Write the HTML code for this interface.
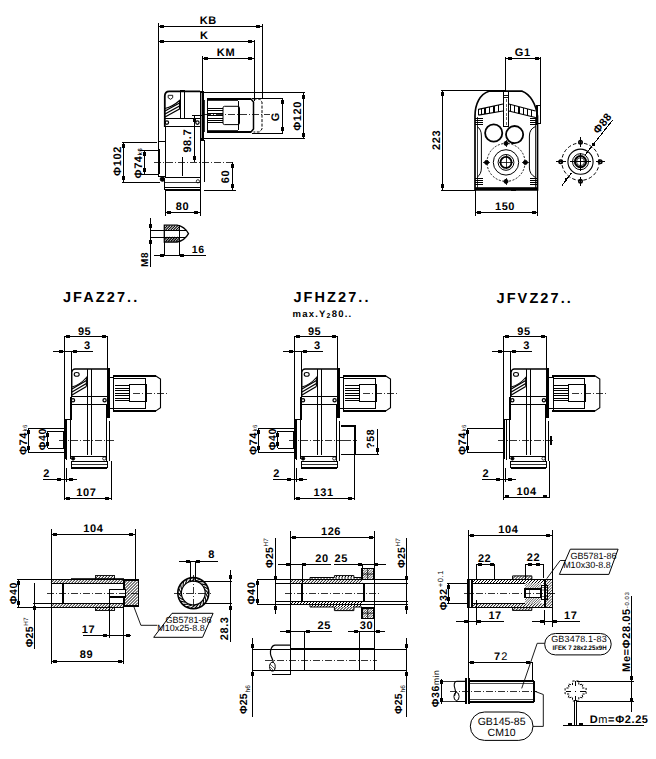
<!DOCTYPE html>
<html><head><meta charset="utf-8"><style>
html,body{margin:0;padding:0;background:#fff;}
svg{display:block;}
text{font-family:"Liberation Sans",sans-serif;}
</style></head><body>
<svg width="656" height="759" viewBox="0 0 656 759" text-rendering="geometricPrecision">
<rect width="656" height="759" fill="#fff"/>
<line x1="158" y1="26.4" x2="262" y2="26.4" stroke="#000" stroke-width="1" shape-rendering="crispEdges"/>
<rect x="160" y="25" width="4" height="3" fill="#000" shape-rendering="crispEdges"/>
<rect x="256" y="25" width="4" height="3" fill="#000" shape-rendering="crispEdges"/>
<text x="208.3" y="23.8" font-size="11" font-weight="bold" text-anchor="middle" font-family="Liberation Sans" letter-spacing="0.6">KB</text>
<line x1="158" y1="41.3" x2="254" y2="41.3" stroke="#000" stroke-width="1" shape-rendering="crispEdges"/>
<rect x="160" y="40" width="4" height="3" fill="#000" shape-rendering="crispEdges"/>
<rect x="248" y="40" width="4" height="3" fill="#000" shape-rendering="crispEdges"/>
<text x="204.3" y="39.1" font-size="11" font-weight="bold" text-anchor="middle" font-family="Liberation Sans" letter-spacing="0.6">K</text>
<line x1="202" y1="58" x2="254" y2="58" stroke="#000" stroke-width="1" shape-rendering="crispEdges"/>
<rect x="204" y="57" width="4" height="3" fill="#000" shape-rendering="crispEdges"/>
<rect x="248" y="57" width="4" height="3" fill="#000" shape-rendering="crispEdges"/>
<text x="226" y="55.5" font-size="11" font-weight="bold" text-anchor="middle" font-family="Liberation Sans" letter-spacing="0.6">KM</text>
<line x1="158" y1="23" x2="158" y2="141.5" stroke="#000" stroke-width="1" shape-rendering="crispEdges"/>
<line x1="262" y1="24" x2="262" y2="99" stroke="#000" stroke-width="1" shape-rendering="crispEdges"/>
<line x1="254" y1="39.5" x2="254" y2="101" stroke="#000" stroke-width="1" shape-rendering="crispEdges"/>
<line x1="202" y1="56" x2="202" y2="91" stroke="#000" stroke-width="1" shape-rendering="crispEdges"/>
<line x1="158" y1="141.5" x2="165.3" y2="141.5" stroke="#000" stroke-width="1" shape-rendering="crispEdges"/>
<path d="M164.8,127 L164.8,96 Q164.8,91.3 169.3,91.3 L200,91.3" stroke="#000" stroke-width="1.8" fill="none"/>
<line x1="180.9" y1="91.3" x2="180.9" y2="118.2" stroke="#000" stroke-width="1" shape-rendering="crispEdges"/>
<line x1="184.3" y1="91.3" x2="184.3" y2="118.2" stroke="#000" stroke-width="1" shape-rendering="crispEdges"/>
<rect x="180.4" y="90.3" width="4.4" height="1.8" fill="#000" shape-rendering="crispEdges"/>
<line x1="164.6" y1="118.2" x2="200" y2="118.2" stroke="#000" stroke-width="1.2" shape-rendering="crispEdges"/>
<line x1="164.6" y1="126.1" x2="200" y2="126.1" stroke="#000" stroke-width="1" shape-rendering="crispEdges"/>
<path d="M165,108.5 Q173,106.5 179.5,100.5 L179.5,109.5" stroke="#000" stroke-width="1.1" fill="none"/>
<path d="M165,111 L179.5,103 M165,114 L179.5,106 M165,117 L179.5,109" stroke="#000" stroke-width="1.4" fill="none"/>
<path d="M168.2,95.3 L172.7,95.3 L172.7,97.8 L170.5,99.3 L168.2,97.8 Z" stroke="#000" stroke-width="0.9" fill="none"/>
<circle cx="166.9" cy="122.6" r="1.7" stroke="#000" stroke-width="1.2" fill="none"/>
<circle cx="197.4" cy="122.6" r="1.7" stroke="#000" stroke-width="1.2" fill="none"/>
<rect x="200" y="91" width="3.5" height="49" fill="#000" shape-rendering="crispEdges"/>
<line x1="201.7" y1="93" x2="201.7" y2="138" stroke="#fff" stroke-width="0.6" shape-rendering="crispEdges"/>
<line x1="203.5" y1="92.6" x2="304.5" y2="92.6" stroke="#000" stroke-width="1" shape-rendering="crispEdges"/>
<line x1="203.5" y1="138.7" x2="304.5" y2="138.7" stroke="#000" stroke-width="1" shape-rendering="crispEdges"/>
<line x1="207.2" y1="99" x2="251" y2="99" stroke="#000" stroke-width="2" shape-rendering="crispEdges"/>
<line x1="207.2" y1="132.2" x2="251" y2="132.2" stroke="#000" stroke-width="2" shape-rendering="crispEdges"/>
<line x1="207.2" y1="98.4" x2="207.2" y2="133.2" stroke="#000" stroke-width="1.2" shape-rendering="crispEdges"/>
<line x1="207.2" y1="100.9" x2="238.3" y2="100.9" stroke="#000" stroke-width="0.8" shape-rendering="crispEdges"/>
<line x1="207.2" y1="130.1" x2="238.3" y2="130.1" stroke="#000" stroke-width="0.8" shape-rendering="crispEdges"/>
<line x1="204.1" y1="100" x2="204.1" y2="132" stroke="#000" stroke-width="0.8" shape-rendering="crispEdges"/>
<line x1="207.8" y1="108.5" x2="223" y2="108.5" stroke="#000" stroke-width="1" shape-rendering="crispEdges"/>
<line x1="207.8" y1="110.9" x2="223" y2="110.9" stroke="#000" stroke-width="1" shape-rendering="crispEdges"/>
<line x1="207.8" y1="113.3" x2="223" y2="113.3" stroke="#000" stroke-width="1" shape-rendering="crispEdges"/>
<line x1="207.8" y1="115.7" x2="223" y2="115.7" stroke="#000" stroke-width="1" shape-rendering="crispEdges"/>
<line x1="207.8" y1="118.1" x2="223" y2="118.1" stroke="#000" stroke-width="1" shape-rendering="crispEdges"/>
<line x1="207.8" y1="120.5" x2="223" y2="120.5" stroke="#000" stroke-width="1" shape-rendering="crispEdges"/>
<line x1="207.8" y1="122.9" x2="223" y2="122.9" stroke="#000" stroke-width="1" shape-rendering="crispEdges"/>
<rect x="223" y="106.3" width="16.5" height="18.3" stroke="#000" stroke-width="1" fill="none" rx="1.5"/>
<line x1="238.3" y1="101" x2="238.3" y2="130" stroke="#000" stroke-width="1" shape-rendering="crispEdges"/>
<path d="M238,99 L251,99 L253.5,102 L253.5,129 L251,132 L238,132" stroke="#000" stroke-width="1.5" fill="none"/>
<path d="M253.5,99 L259.5,99 L262,102 L262,129 L259.5,132 L253.5,132" stroke="#000" stroke-width="1" fill="none" stroke-dasharray="3,1.5"/>
<line x1="203.5" y1="114.9" x2="270" y2="114.9" stroke="#000" stroke-width="0.8" stroke-dasharray="7,2,1,2" shape-rendering="crispEdges"/>
<line x1="282.3" y1="98.5" x2="282.3" y2="133" stroke="#000" stroke-width="1" shape-rendering="crispEdges"/>
<rect x="281" y="100" width="3" height="4" fill="#000" shape-rendering="crispEdges"/>
<rect x="281" y="127" width="3" height="4" fill="#000" shape-rendering="crispEdges"/>
<text x="279.5" y="116.6" font-size="11" font-weight="bold" text-anchor="middle" font-family="Liberation Sans" letter-spacing="0.6" transform="rotate(-90 279.5 116.6)">G</text>
<line x1="303.6" y1="92.6" x2="303.6" y2="139" stroke="#000" stroke-width="1" shape-rendering="crispEdges"/>
<rect x="302" y="95" width="3" height="4" fill="#000" shape-rendering="crispEdges"/>
<rect x="302" y="133" width="3" height="4" fill="#000" shape-rendering="crispEdges"/>
<text x="301.5" y="115.9" font-size="11" font-weight="bold" text-anchor="middle" font-family="Liberation Sans" letter-spacing="0.6" transform="rotate(-90 301.5 115.9)">Φ120</text>
<line x1="252" y1="98.5" x2="283" y2="98.5" stroke="#000" stroke-width="1" shape-rendering="crispEdges"/>
<line x1="252" y1="133" x2="283" y2="133" stroke="#000" stroke-width="1" shape-rendering="crispEdges"/>
<line x1="165.3" y1="126.3" x2="165.3" y2="177.7" stroke="#000" stroke-width="1.2" shape-rendering="crispEdges"/>
<line x1="200.3" y1="126.3" x2="200.3" y2="181.5" stroke="#000" stroke-width="1.2" shape-rendering="crispEdges"/>
<rect x="158" y="149.4" width="2" height="24.6" fill="#000" shape-rendering="crispEdges"/>
<line x1="158" y1="141.5" x2="158" y2="176" stroke="#000" stroke-width="1" shape-rendering="crispEdges"/>
<line x1="158" y1="176" x2="165" y2="176" stroke="#000" stroke-width="1" shape-rendering="crispEdges"/>
<line x1="200.3" y1="140.7" x2="204.5" y2="140.7" stroke="#000" stroke-width="1" shape-rendering="crispEdges"/>
<line x1="204.5" y1="140.7" x2="204.5" y2="181.5" stroke="#000" stroke-width="1" shape-rendering="crispEdges"/>
<line x1="165" y1="177.7" x2="200" y2="177.7" stroke="#000" stroke-width="1" shape-rendering="crispEdges"/>
<line x1="164.6" y1="182.3" x2="200.3" y2="182.3" stroke="#000" stroke-width="0.8" shape-rendering="crispEdges"/>
<line x1="164.6" y1="187.3" x2="200.3" y2="187.3" stroke="#000" stroke-width="1" shape-rendering="crispEdges"/>
<line x1="164.6" y1="190" x2="200.3" y2="190" stroke="#000" stroke-width="1.8" shape-rendering="crispEdges"/>
<line x1="164.6" y1="177.7" x2="164.6" y2="190" stroke="#000" stroke-width="1" shape-rendering="crispEdges"/>
<line x1="200.3" y1="177.7" x2="200.3" y2="190" stroke="#000" stroke-width="1" shape-rendering="crispEdges"/>
<circle cx="162.4" cy="179.1" r="2.2" stroke="#000" stroke-width="1" fill="#000"/>
<circle cx="197.9" cy="181.3" r="1.6" stroke="#000" stroke-width="0.8" fill="none"/>
<line x1="182" y1="157" x2="182" y2="176" stroke="#000" stroke-width="1" shape-rendering="crispEdges"/>
<line x1="153.8" y1="162.3" x2="232" y2="162.3" stroke="#000" stroke-width="0.8" stroke-dasharray="7,2,1,2" shape-rendering="crispEdges"/>
<line x1="192" y1="115" x2="203" y2="115" stroke="#000" stroke-width="1" shape-rendering="crispEdges"/>
<line x1="194.3" y1="115.5" x2="194.3" y2="162" stroke="#000" stroke-width="1" shape-rendering="crispEdges"/>
<rect x="193" y="118" width="3" height="4" fill="#000" shape-rendering="crispEdges"/>
<rect x="193" y="156" width="3" height="4" fill="#000" shape-rendering="crispEdges"/>
<text x="191.5" y="140.7" font-size="11" font-weight="bold" text-anchor="middle" font-family="Liberation Sans" letter-spacing="0.6" transform="rotate(-90 191.5 140.7)">98.7</text>
<line x1="123.5" y1="142.3" x2="123.5" y2="182.3" stroke="#000" stroke-width="1" shape-rendering="crispEdges"/>
<rect x="122" y="144" width="3" height="4" fill="#000" shape-rendering="crispEdges"/>
<rect x="122" y="176" width="3" height="4" fill="#000" shape-rendering="crispEdges"/>
<text x="120.5" y="161" font-size="11" font-weight="bold" text-anchor="middle" font-family="Liberation Sans" letter-spacing="0.6" transform="rotate(-90 120.5 161)">Φ102</text>
<line x1="121.7" y1="142.3" x2="157" y2="142.3" stroke="#000" stroke-width="1" shape-rendering="crispEdges"/>
<line x1="121.7" y1="182.3" x2="160" y2="182.3" stroke="#000" stroke-width="1" shape-rendering="crispEdges"/>
<line x1="144.6" y1="150.3" x2="144.6" y2="174.3" stroke="#000" stroke-width="1" shape-rendering="crispEdges"/>
<rect x="143" y="152" width="3" height="4" fill="#000" shape-rendering="crispEdges"/>
<rect x="143" y="168" width="3" height="4" fill="#000" shape-rendering="crispEdges"/>
<text x="141.5" y="163" font-size="11" font-weight="bold" text-anchor="middle" font-family="Liberation Sans" letter-spacing="0.6" transform="rotate(-90 141.5 163)">Φ74<tspan font-size="6" dy="0">k6</tspan></text>
<line x1="140" y1="150.3" x2="158" y2="150.3" stroke="#000" stroke-width="1" shape-rendering="crispEdges"/>
<line x1="140" y1="174.3" x2="158" y2="174.3" stroke="#000" stroke-width="1" shape-rendering="crispEdges"/>
<line x1="232.2" y1="162.3" x2="232.2" y2="190" stroke="#000" stroke-width="1" shape-rendering="crispEdges"/>
<rect x="231" y="164" width="3" height="4" fill="#000" shape-rendering="crispEdges"/>
<rect x="231" y="184" width="3" height="4" fill="#000" shape-rendering="crispEdges"/>
<text x="229" y="176.6" font-size="11" font-weight="bold" text-anchor="middle" font-family="Liberation Sans" letter-spacing="0.6" transform="rotate(-90 229 176.6)">60</text>
<line x1="204" y1="190" x2="236" y2="190" stroke="#000" stroke-width="1" shape-rendering="crispEdges"/>
<line x1="165" y1="189" x2="165" y2="216" stroke="#000" stroke-width="1" shape-rendering="crispEdges"/>
<line x1="200.4" y1="189" x2="200.4" y2="216" stroke="#000" stroke-width="1" shape-rendering="crispEdges"/>
<line x1="165" y1="212.5" x2="200.4" y2="212.5" stroke="#000" stroke-width="1" shape-rendering="crispEdges"/>
<rect x="167" y="211" width="4" height="3" fill="#000" shape-rendering="crispEdges"/>
<rect x="194" y="211" width="4" height="3" fill="#000" shape-rendering="crispEdges"/>
<text x="182.5" y="209.5" font-size="11" font-weight="bold" text-anchor="middle" font-family="Liberation Sans" letter-spacing="0.6">80</text>
<line x1="150.6" y1="218" x2="150.6" y2="267" stroke="#000" stroke-width="1" shape-rendering="crispEdges"/>
<rect x="149" y="224" width="3" height="4" fill="#000" shape-rendering="crispEdges"/>
<rect x="149" y="240" width="3" height="4" fill="#000" shape-rendering="crispEdges"/>
<line x1="150.6" y1="230.2" x2="165" y2="230.2" stroke="#000" stroke-width="1" shape-rendering="crispEdges"/>
<line x1="150.6" y1="237" x2="165" y2="237" stroke="#000" stroke-width="1" shape-rendering="crispEdges"/>
<line x1="150.6" y1="225.2" x2="165" y2="225.2" stroke="#000" stroke-width="0" shape-rendering="crispEdges"/>
<path d="M164.3,225.2 L177,225.2 Q184.5,226.5 188.5,233.6 Q184.5,240.7 177,242 L164.3,242 Z" stroke="#000" stroke-width="1.3" fill="none"/>
<path d="M164.8,228.3 L167.4,225.7 M165.5,230.2 L170.0,225.7 M168.1,230.2 L172.6,225.7 M170.7,230.2 L175.2,225.7 M173.3,230.2 L177.8,225.7 M175.9,230.2 L179.3,226.8 M178.5,230.2 L179.3,229.4" stroke="#000" stroke-width="1.1" fill="none"/>
<path d="M164.8,239.6 L167.4,237.0 M165.5,241.5 L170.0,237.0 M168.1,241.5 L172.6,237.0 M170.7,241.5 L175.2,237.0 M173.3,241.5 L177.8,237.0 M175.9,241.5 L179.3,238.1 M178.5,241.5 L179.3,240.7" stroke="#000" stroke-width="1.1" fill="none"/>
<line x1="164.3" y1="230.2" x2="186" y2="230.2" stroke="#000" stroke-width="1" shape-rendering="crispEdges"/>
<line x1="164.3" y1="237" x2="186" y2="237" stroke="#000" stroke-width="1" shape-rendering="crispEdges"/>
<line x1="164.8" y1="242" x2="164.8" y2="256" stroke="#000" stroke-width="1" shape-rendering="crispEdges"/>
<line x1="179.5" y1="225.2" x2="179.5" y2="256" stroke="#000" stroke-width="1" shape-rendering="crispEdges"/>
<line x1="153.6" y1="255.2" x2="206.2" y2="255.2" stroke="#000" stroke-width="1" shape-rendering="crispEdges"/>
<rect x="160" y="254" width="4" height="3" fill="#000" shape-rendering="crispEdges"/>
<rect x="180" y="254" width="4" height="3" fill="#000" shape-rendering="crispEdges"/>
<text x="198.3" y="252.6" font-size="10.5" font-weight="bold" text-anchor="middle" font-family="Liberation Sans" letter-spacing="0.6">16</text>
<text x="147.5" y="259.5" font-size="10" font-weight="bold" text-anchor="middle" font-family="Liberation Sans" letter-spacing="0.6" transform="rotate(-90 147.5 259.5)">M8</text>
<line x1="505.5" y1="58.3" x2="540.6" y2="58.3" stroke="#000" stroke-width="1" shape-rendering="crispEdges"/>
<rect x="508" y="57" width="4" height="3" fill="#000" shape-rendering="crispEdges"/>
<rect x="535" y="57" width="4" height="3" fill="#000" shape-rendering="crispEdges"/>
<text x="522.8" y="55.5" font-size="11" font-weight="bold" text-anchor="middle" font-family="Liberation Sans" letter-spacing="0.6">G1</text>
<line x1="505.5" y1="57" x2="505.5" y2="91" stroke="#000" stroke-width="1" shape-rendering="crispEdges"/>
<line x1="540.6" y1="57" x2="540.6" y2="106" stroke="#000" stroke-width="1" shape-rendering="crispEdges"/>
<line x1="441" y1="90.3" x2="505" y2="90.3" stroke="#000" stroke-width="1" shape-rendering="crispEdges"/>
<line x1="442.4" y1="90.3" x2="442.4" y2="190" stroke="#000" stroke-width="1" shape-rendering="crispEdges"/>
<rect x="441" y="92" width="3" height="4" fill="#000" shape-rendering="crispEdges"/>
<rect x="441" y="184" width="3" height="4" fill="#000" shape-rendering="crispEdges"/>
<text x="440" y="139.8" font-size="11" font-weight="bold" text-anchor="middle" font-family="Liberation Sans" letter-spacing="0.6" transform="rotate(-90 440 139.8)">223</text>
<line x1="441" y1="190" x2="475" y2="190" stroke="#000" stroke-width="1" shape-rendering="crispEdges"/>
<path d="M475,190 L475,116 C475,104 480,94 489,91.2 L522.2,91.2 C530,94 536,104 537.5,116 L537.5,190 Z" stroke="#000" stroke-width="1.7" fill="none"/>
<line x1="477" y1="117" x2="477" y2="188" stroke="#000" stroke-width="0.8" shape-rendering="crispEdges"/>
<line x1="535.6" y1="117" x2="535.6" y2="188" stroke="#000" stroke-width="0.8" shape-rendering="crispEdges"/>
<rect x="537.1" y="105.6" width="3.4" height="17.6" stroke="#000" stroke-width="1.3" fill="none" rx="0" shape-rendering="crispEdges"/>
<path d="M478.4,109.3 L503,104 M508.8,104 L535.5,111" stroke="#000" stroke-width="1.2" fill="none"/>
<path d="M478.4,115.2 L503,111 M508.8,111 L535.5,117.5" stroke="#000" stroke-width="1.2" fill="none"/>
<line x1="478.4" y1="109.3" x2="478.4" y2="115.2" stroke="#000" stroke-width="1" shape-rendering="crispEdges"/>
<line x1="481.5" y1="108.6" x2="481.5" y2="114.7" stroke="#000" stroke-width="1.4" shape-rendering="crispEdges"/>
<line x1="484.8" y1="107.9" x2="484.8" y2="114.1" stroke="#000" stroke-width="1.4" shape-rendering="crispEdges"/>
<line x1="489.6" y1="106.9" x2="489.6" y2="113.3" stroke="#000" stroke-width="1.4" shape-rendering="crispEdges"/>
<line x1="493.9" y1="106.0" x2="493.9" y2="112.6" stroke="#000" stroke-width="1.4" shape-rendering="crispEdges"/>
<line x1="498.7" y1="104.9" x2="498.7" y2="111.7" stroke="#000" stroke-width="1.4" shape-rendering="crispEdges"/>
<line x1="510.4" y1="104.4" x2="510.4" y2="111.4" stroke="#000" stroke-width="1.4" shape-rendering="crispEdges"/>
<line x1="514.2" y1="105.4" x2="514.2" y2="112.3" stroke="#000" stroke-width="1.4" shape-rendering="crispEdges"/>
<line x1="519" y1="106.7" x2="519" y2="113.5" stroke="#000" stroke-width="1.4" shape-rendering="crispEdges"/>
<line x1="523.2" y1="107.8" x2="523.2" y2="114.5" stroke="#000" stroke-width="1.4" shape-rendering="crispEdges"/>
<line x1="527.5" y1="108.9" x2="527.5" y2="115.6" stroke="#000" stroke-width="1.4" shape-rendering="crispEdges"/>
<line x1="531.5" y1="110.0" x2="531.5" y2="116.5" stroke="#000" stroke-width="1.4" shape-rendering="crispEdges"/>
<rect x="503.5" y="91.2" width="5.3" height="35" stroke="#000" stroke-width="1.1" fill="none" rx="0" shape-rendering="crispEdges"/>
<line x1="506.1" y1="99" x2="506.1" y2="126" stroke="#000" stroke-width="0.6" stroke-dasharray="3,1.5" shape-rendering="crispEdges"/>
<line x1="503.5" y1="95.5" x2="508.8" y2="95.5" stroke="#000" stroke-width="0.9" shape-rendering="crispEdges"/>
<line x1="503.5" y1="97.6" x2="508.8" y2="97.6" stroke="#000" stroke-width="0.9" shape-rendering="crispEdges"/>
<line x1="475.2" y1="118.4" x2="482.7" y2="118.4" stroke="#000" stroke-width="1" shape-rendering="crispEdges"/>
<line x1="475.2" y1="120.5" x2="482.7" y2="120.5" stroke="#000" stroke-width="1" shape-rendering="crispEdges"/>
<line x1="475.2" y1="122.7" x2="482.7" y2="122.7" stroke="#000" stroke-width="1" shape-rendering="crispEdges"/>
<line x1="475.2" y1="124.8" x2="482.7" y2="124.8" stroke="#000" stroke-width="1" shape-rendering="crispEdges"/>
<line x1="529.5" y1="118.4" x2="536.5" y2="118.4" stroke="#000" stroke-width="1" shape-rendering="crispEdges"/>
<line x1="529.5" y1="120.5" x2="536.5" y2="120.5" stroke="#000" stroke-width="1" shape-rendering="crispEdges"/>
<line x1="529.5" y1="122.7" x2="536.5" y2="122.7" stroke="#000" stroke-width="1" shape-rendering="crispEdges"/>
<line x1="529.5" y1="124.8" x2="536.5" y2="124.8" stroke="#000" stroke-width="1" shape-rendering="crispEdges"/>
<line x1="475.2" y1="178" x2="482.7" y2="178" stroke="#000" stroke-width="1" shape-rendering="crispEdges"/>
<line x1="475.2" y1="180" x2="482.7" y2="180" stroke="#000" stroke-width="1" shape-rendering="crispEdges"/>
<line x1="475.2" y1="182" x2="482.7" y2="182" stroke="#000" stroke-width="1" shape-rendering="crispEdges"/>
<line x1="475.2" y1="184" x2="482.7" y2="184" stroke="#000" stroke-width="1" shape-rendering="crispEdges"/>
<line x1="529.5" y1="178" x2="536.5" y2="178" stroke="#000" stroke-width="1" shape-rendering="crispEdges"/>
<line x1="529.5" y1="180" x2="536.5" y2="180" stroke="#000" stroke-width="1" shape-rendering="crispEdges"/>
<line x1="529.5" y1="182" x2="536.5" y2="182" stroke="#000" stroke-width="1" shape-rendering="crispEdges"/>
<line x1="529.5" y1="184" x2="536.5" y2="184" stroke="#000" stroke-width="1" shape-rendering="crispEdges"/>
<circle cx="493.7" cy="133" r="8.6" stroke="#000" stroke-width="1.8" fill="none"/>
<circle cx="514.6" cy="134.6" r="8.6" stroke="#000" stroke-width="1.8" fill="none"/>
<path d="M477,126.5 Q481.4,129 481.4,136 L481.4,168 Q481.4,174 477,177.5" stroke="#000" stroke-width="1" fill="none"/>
<path d="M535.5,126.5 Q529.4,129 529.4,136 L529.4,168 Q529.4,174 535.5,177.5" stroke="#000" stroke-width="1" fill="none"/>
<circle cx="506" cy="162.4" r="19" stroke="#000" stroke-width="0.9" fill="none" stroke-dasharray="2,1.5"/>
<circle cx="506" cy="162.4" r="12.7" stroke="#000" stroke-width="1" fill="none"/>
<circle cx="506" cy="162.4" r="7.9" stroke="#000" stroke-width="1" fill="none"/>
<circle cx="506" cy="162.4" r="5.5" stroke="#000" stroke-width="1.8" fill="none"/>
<line x1="499" y1="162.4" x2="513" y2="162.4" stroke="#000" stroke-width="0.8" shape-rendering="crispEdges"/>
<line x1="506" y1="155.4" x2="506" y2="169.4" stroke="#000" stroke-width="0.8" shape-rendering="crispEdges"/>
<circle cx="486.6" cy="162.4" r="2" stroke="#000" stroke-width="1" fill="#000"/>
<circle cx="525.4" cy="162.4" r="2" stroke="#000" stroke-width="1" fill="#000"/>
<circle cx="506" cy="143.4" r="2" stroke="#000" stroke-width="1" fill="#000"/>
<circle cx="506" cy="181.4" r="2" stroke="#000" stroke-width="1" fill="#000"/>
<line x1="483" y1="162.4" x2="490" y2="162.4" stroke="#000" stroke-width="0.8" shape-rendering="crispEdges"/>
<line x1="522" y1="162.4" x2="529" y2="162.4" stroke="#000" stroke-width="0.8" shape-rendering="crispEdges"/>
<line x1="506" y1="140" x2="506" y2="147" stroke="#000" stroke-width="0.8" shape-rendering="crispEdges"/>
<line x1="506" y1="178" x2="506" y2="185" stroke="#000" stroke-width="0.8" shape-rendering="crispEdges"/>
<line x1="475" y1="187" x2="537.5" y2="187" stroke="#000" stroke-width="0.8" shape-rendering="crispEdges"/>
<line x1="475" y1="189.3" x2="537.5" y2="189.3" stroke="#000" stroke-width="1.8" shape-rendering="crispEdges"/>
<rect x="511.3" y="188.5" width="4.3" height="2.2" fill="#000" shape-rendering="crispEdges"/>
<line x1="475" y1="190" x2="475" y2="216" stroke="#000" stroke-width="1" shape-rendering="crispEdges"/>
<line x1="537.5" y1="190" x2="537.5" y2="216" stroke="#000" stroke-width="1" shape-rendering="crispEdges"/>
<line x1="475" y1="212.4" x2="537.5" y2="212.4" stroke="#000" stroke-width="1" shape-rendering="crispEdges"/>
<rect x="477" y="211" width="4" height="3" fill="#000" shape-rendering="crispEdges"/>
<rect x="532" y="211" width="4" height="3" fill="#000" shape-rendering="crispEdges"/>
<text x="505" y="210.2" font-size="11" font-weight="bold" text-anchor="middle" font-family="Liberation Sans" letter-spacing="0.6">150</text>
<circle cx="580.5" cy="161.7" r="18.7" stroke="#000" stroke-width="1" fill="none" stroke-dasharray="3.5,2.2"/>
<circle cx="580.5" cy="161.7" r="12.6" stroke="#000" stroke-width="1.1" fill="none"/>
<circle cx="580.5" cy="161.7" r="8" stroke="#000" stroke-width="1" fill="none"/>
<circle cx="580.5" cy="161.7" r="5.6" stroke="#000" stroke-width="2" fill="none"/>
<circle cx="580.5" cy="161.7" r="4" stroke="#000" stroke-width="0.8" fill="none"/>
<line x1="556" y1="161.7" x2="565.5" y2="161.7" stroke="#000" stroke-width="1" shape-rendering="crispEdges"/>
<line x1="570.2" y1="161.7" x2="590.8" y2="161.7" stroke="#000" stroke-width="1" shape-rendering="crispEdges"/>
<line x1="595.5" y1="161.7" x2="605" y2="161.7" stroke="#000" stroke-width="1" shape-rendering="crispEdges"/>
<line x1="580.5" y1="137.3" x2="580.5" y2="147" stroke="#000" stroke-width="1" shape-rendering="crispEdges"/>
<line x1="580.5" y1="152.5" x2="580.5" y2="171" stroke="#000" stroke-width="1" shape-rendering="crispEdges"/>
<line x1="580.5" y1="176.5" x2="580.5" y2="185.5" stroke="#000" stroke-width="1" shape-rendering="crispEdges"/>
<circle cx="560.7" cy="161.7" r="1.7" stroke="#000" stroke-width="1.6" fill="none"/>
<circle cx="600.2" cy="161.7" r="1.7" stroke="#000" stroke-width="1.6" fill="none"/>
<circle cx="580.5" cy="142.2" r="1.7" stroke="#000" stroke-width="1.6" fill="none"/>
<circle cx="580.5" cy="181.3" r="1.7" stroke="#000" stroke-width="1.6" fill="none"/>
<line x1="585" y1="155" x2="612.8" y2="119.8" stroke="#000" stroke-width="1" shape-rendering="crispEdges"/>
<line x1="562" y1="185.6" x2="571.4" y2="173.1" stroke="#000" stroke-width="1" shape-rendering="crispEdges"/>
<rect x="592.3" y="142.8" width="2.2" height="3.5" fill="#000" shape-rendering="crispEdges"/>
<rect x="565.2" y="177.8" width="2.2" height="3.5" fill="#000" shape-rendering="crispEdges"/>
<text x="605.4" y="125.5" font-size="11" font-weight="bold" text-anchor="middle" font-family="Liberation Sans" letter-spacing="0.6" transform="rotate(-52 605.4 125.5)">Φ88</text>
<g transform="translate(0,0)">
<line x1="64.4" y1="336.5" x2="107.6" y2="336.5" stroke="#000" stroke-width="1" shape-rendering="crispEdges"/>
<rect x="66" y="335" width="4" height="3" fill="#000" shape-rendering="crispEdges"/>
<rect x="102" y="335" width="4" height="3" fill="#000" shape-rendering="crispEdges"/>
<text x="84.6" y="334.8" font-size="11" font-weight="bold" text-anchor="middle" font-family="Liberation Sans" letter-spacing="0.6">95</text>
<line x1="52.7" y1="351.7" x2="93" y2="351.7" stroke="#000" stroke-width="1" shape-rendering="crispEdges"/>
<rect x="59" y="350" width="4" height="3" fill="#000" shape-rendering="crispEdges"/>
<rect x="73" y="350" width="4" height="3" fill="#000" shape-rendering="crispEdges"/>
<text x="87.3" y="349.1" font-size="11" font-weight="bold" text-anchor="middle" font-family="Liberation Sans" letter-spacing="0.6">3</text>
<line x1="64.4" y1="335.5" x2="64.4" y2="500" stroke="#000" stroke-width="1" shape-rendering="crispEdges"/>
<line x1="71.1" y1="350.5" x2="71.1" y2="419.5" stroke="#000" stroke-width="1" shape-rendering="crispEdges"/>
<line x1="107.6" y1="335.5" x2="107.6" y2="368.5" stroke="#000" stroke-width="1" shape-rendering="crispEdges"/>
<path d="M71.8,396.5 L71.8,372 Q72.5,369 75,369 L107.6,369" stroke="#000" stroke-width="1.3" fill="none"/>
<line x1="87.6" y1="369" x2="87.6" y2="455" stroke="#000" stroke-width="1" shape-rendering="crispEdges"/>
<line x1="91.3" y1="369" x2="91.3" y2="455" stroke="#000" stroke-width="1" shape-rendering="crispEdges"/>
<path d="M72,387 Q80,385 86.4,377.5 L86.4,386.5" stroke="#000" stroke-width="1.1" fill="none"/>
<path d="M72,389 L86.4,380.5 M72,392 L86.4,383.5 M72,395 L86.4,386.5" stroke="#000" stroke-width="1.3" fill="none"/>
<ellipse cx="76.7" cy="374.4" rx="2.5" ry="1.9" stroke="#000" stroke-width="1.1" fill="none"/>
<line x1="71.8" y1="396.6" x2="107.6" y2="396.6" stroke="#000" stroke-width="1.4" shape-rendering="crispEdges"/>
<line x1="71.8" y1="404.1" x2="106.6" y2="404.1" stroke="#000" stroke-width="1" shape-rendering="crispEdges"/>
<rect x="107.2" y="368" width="2.6" height="50" fill="#000" shape-rendering="crispEdges"/>
<circle cx="73" cy="400.2" r="1.6" stroke="#000" stroke-width="1.3" fill="none"/>
<circle cx="104.6" cy="400.2" r="1.6" stroke="#000" stroke-width="1.3" fill="none"/>
<line x1="70.4" y1="396.6" x2="70.4" y2="458.5" stroke="#000" stroke-width="1" shape-rendering="crispEdges"/>
<line x1="106.6" y1="403.9" x2="106.6" y2="461.2" stroke="#000" stroke-width="1" shape-rendering="crispEdges"/>
<rect x="64" y="420" width="2" height="38.5" fill="#000" shape-rendering="crispEdges"/>
<line x1="66.9" y1="419.4" x2="66.9" y2="459.7" stroke="#000" stroke-width="1" shape-rendering="crispEdges"/>
<line x1="64.4" y1="419.4" x2="71.1" y2="419.4" stroke="#000" stroke-width="1" shape-rendering="crispEdges"/>
<line x1="109.7" y1="421" x2="109.7" y2="461" stroke="#000" stroke-width="1" shape-rendering="crispEdges"/>
<line x1="70.4" y1="456.6" x2="106.6" y2="456.6" stroke="#000" stroke-width="1" shape-rendering="crispEdges"/>
<circle cx="73.1" cy="458.5" r="1.6" stroke="#000" stroke-width="1" fill="#000"/>
<circle cx="104.2" cy="458.5" r="1.6" stroke="#000" stroke-width="0.8" fill="none"/>
<line x1="71.3" y1="461.2" x2="107" y2="461.2" stroke="#000" stroke-width="1" shape-rendering="crispEdges"/>
<line x1="71.3" y1="464.2" x2="107" y2="464.2" stroke="#000" stroke-width="0.8" shape-rendering="crispEdges"/>
<line x1="71.3" y1="468" x2="107" y2="468" stroke="#000" stroke-width="1.6" shape-rendering="crispEdges"/>
<line x1="71.3" y1="461.2" x2="71.3" y2="468" stroke="#000" stroke-width="1" shape-rendering="crispEdges"/>
<line x1="107" y1="461.2" x2="107" y2="468" stroke="#000" stroke-width="1" shape-rendering="crispEdges"/>
<line x1="109.8" y1="377.9" x2="113.9" y2="377.9" stroke="#000" stroke-width="1" shape-rendering="crispEdges"/>
<line x1="109.8" y1="408.6" x2="113.9" y2="408.6" stroke="#000" stroke-width="1" shape-rendering="crispEdges"/>
<path d="M155.5,375.7 L160.5,379 L160.5,407.6 L155.5,411.1" stroke="#000" stroke-width="1.1" fill="none"/>
<line x1="112.9" y1="376" x2="155.5" y2="376" stroke="#000" stroke-width="2.2" shape-rendering="crispEdges"/>
<line x1="112.9" y1="410.8" x2="155.5" y2="410.8" stroke="#000" stroke-width="2.2" shape-rendering="crispEdges"/>
<line x1="113.9" y1="375.7" x2="113.9" y2="411.1" stroke="#000" stroke-width="1" shape-rendering="crispEdges"/>
<line x1="113.9" y1="378.9" x2="145.6" y2="378.9" stroke="#000" stroke-width="1" shape-rendering="crispEdges"/>
<line x1="113.9" y1="408.1" x2="145.6" y2="408.1" stroke="#000" stroke-width="1" shape-rendering="crispEdges"/>
<line x1="145.6" y1="378.9" x2="145.6" y2="408.1" stroke="#000" stroke-width="1" shape-rendering="crispEdges"/>
<line x1="114.9" y1="385.8" x2="129.3" y2="385.8" stroke="#000" stroke-width="1" shape-rendering="crispEdges"/>
<line x1="114.9" y1="388.3" x2="129.3" y2="388.3" stroke="#000" stroke-width="1" shape-rendering="crispEdges"/>
<line x1="114.9" y1="390.8" x2="129.3" y2="390.8" stroke="#000" stroke-width="1" shape-rendering="crispEdges"/>
<line x1="114.9" y1="393.3" x2="129.3" y2="393.3" stroke="#000" stroke-width="1" shape-rendering="crispEdges"/>
<line x1="114.9" y1="395.8" x2="129.3" y2="395.8" stroke="#000" stroke-width="1" shape-rendering="crispEdges"/>
<line x1="114.9" y1="398.3" x2="129.3" y2="398.3" stroke="#000" stroke-width="1" shape-rendering="crispEdges"/>
<line x1="114.9" y1="400.8" x2="129.3" y2="400.8" stroke="#000" stroke-width="1" shape-rendering="crispEdges"/>
<rect x="129.3" y="384.3" width="17.3" height="16.9" stroke="#000" stroke-width="1" fill="none" rx="0" shape-rendering="crispEdges"/>
<line x1="132.7" y1="393.5" x2="168" y2="393.5" stroke="#000" stroke-width="0.8" stroke-dasharray="7,2,1,2" shape-rendering="crispEdges"/>
<line x1="58.7" y1="440.3" x2="113.5" y2="440.3" stroke="#000" stroke-width="0.8" stroke-dasharray="7,2,1,2" shape-rendering="crispEdges"/>
<line x1="28.3" y1="428.3" x2="28.3" y2="452.2" stroke="#000" stroke-width="1" shape-rendering="crispEdges"/>
<rect x="27" y="430" width="3" height="4" fill="#000" shape-rendering="crispEdges"/>
<rect x="27" y="446" width="3" height="4" fill="#000" shape-rendering="crispEdges"/>
<line x1="28" y1="428.3" x2="64" y2="428.3" stroke="#000" stroke-width="1" shape-rendering="crispEdges"/>
<line x1="28" y1="452.2" x2="64" y2="452.2" stroke="#000" stroke-width="1" shape-rendering="crispEdges"/>
<text x="26.5" y="439.5" font-size="11" font-weight="bold" text-anchor="middle" font-family="Liberation Sans" letter-spacing="0.6" transform="rotate(-90 26.5 439.5)">Φ74<tspan font-size="6" font-weight="normal" dx="0.5">k6</tspan></text>
<line x1="42.9" y1="479.1" x2="76.8" y2="479.1" stroke="#000" stroke-width="1" shape-rendering="crispEdges"/>
<rect x="57" y="478" width="4" height="3" fill="#000" shape-rendering="crispEdges"/>
<rect x="69" y="478" width="4" height="3" fill="#000" shape-rendering="crispEdges"/>
<line x1="66" y1="468" x2="66" y2="482" stroke="#000" stroke-width="1" shape-rendering="crispEdges"/>
<text x="46.5" y="476.8" font-size="11" font-weight="bold" text-anchor="middle" font-family="Liberation Sans" letter-spacing="0.6">2</text>
<line x1="47.9" y1="431.3" x2="47.9" y2="448.3" stroke="#000" stroke-width="1" shape-rendering="crispEdges"/>
<rect x="46" y="433" width="3" height="4" fill="#000" shape-rendering="crispEdges"/>
<rect x="46" y="442" width="3" height="4" fill="#000" shape-rendering="crispEdges"/>
<text x="46" y="439.2" font-size="10.5" font-weight="bold" text-anchor="middle" font-family="Liberation Sans" letter-spacing="0.6" transform="rotate(-90 46 439.2)">Φ40</text>
<line x1="47.9" y1="431.3" x2="64" y2="431.3" stroke="#000" stroke-width="1" shape-rendering="crispEdges"/>
<line x1="47.9" y1="448.3" x2="64" y2="448.3" stroke="#000" stroke-width="1" shape-rendering="crispEdges"/>
<line x1="63.3" y1="431.3" x2="63.3" y2="448.3" stroke="#000" stroke-width="1" shape-rendering="crispEdges"/>
<line x1="111" y1="461" x2="111" y2="500" stroke="#000" stroke-width="1" shape-rendering="crispEdges"/>
<line x1="64.5" y1="498.2" x2="111" y2="498.2" stroke="#000" stroke-width="1" shape-rendering="crispEdges"/>
<rect x="66" y="497" width="4" height="3" fill="#000" shape-rendering="crispEdges"/>
<rect x="105" y="497" width="4" height="3" fill="#000" shape-rendering="crispEdges"/>
<text x="86.3" y="496.2" font-size="11" font-weight="bold" text-anchor="middle" font-family="Liberation Sans" letter-spacing="0.6">107</text>
</g>
<g transform="translate(230,0)">
<line x1="64.4" y1="336.5" x2="107.6" y2="336.5" stroke="#000" stroke-width="1" shape-rendering="crispEdges"/>
<rect x="66" y="335" width="4" height="3" fill="#000" shape-rendering="crispEdges"/>
<rect x="102" y="335" width="4" height="3" fill="#000" shape-rendering="crispEdges"/>
<text x="84.6" y="334.8" font-size="11" font-weight="bold" text-anchor="middle" font-family="Liberation Sans" letter-spacing="0.6">95</text>
<line x1="52.7" y1="351.7" x2="93" y2="351.7" stroke="#000" stroke-width="1" shape-rendering="crispEdges"/>
<rect x="59" y="350" width="4" height="3" fill="#000" shape-rendering="crispEdges"/>
<rect x="73" y="350" width="4" height="3" fill="#000" shape-rendering="crispEdges"/>
<text x="87.3" y="349.1" font-size="11" font-weight="bold" text-anchor="middle" font-family="Liberation Sans" letter-spacing="0.6">3</text>
<line x1="64.4" y1="335.5" x2="64.4" y2="500" stroke="#000" stroke-width="1" shape-rendering="crispEdges"/>
<line x1="71.1" y1="350.5" x2="71.1" y2="419.5" stroke="#000" stroke-width="1" shape-rendering="crispEdges"/>
<line x1="107.6" y1="335.5" x2="107.6" y2="368.5" stroke="#000" stroke-width="1" shape-rendering="crispEdges"/>
<path d="M71.8,396.5 L71.8,372 Q72.5,369 75,369 L107.6,369" stroke="#000" stroke-width="1.3" fill="none"/>
<line x1="87.6" y1="369" x2="87.6" y2="455" stroke="#000" stroke-width="1" shape-rendering="crispEdges"/>
<line x1="91.3" y1="369" x2="91.3" y2="455" stroke="#000" stroke-width="1" shape-rendering="crispEdges"/>
<path d="M72,387 Q80,385 86.4,377.5 L86.4,386.5" stroke="#000" stroke-width="1.1" fill="none"/>
<path d="M72,389 L86.4,380.5 M72,392 L86.4,383.5 M72,395 L86.4,386.5" stroke="#000" stroke-width="1.3" fill="none"/>
<ellipse cx="76.7" cy="374.4" rx="2.5" ry="1.9" stroke="#000" stroke-width="1.1" fill="none"/>
<line x1="71.8" y1="396.6" x2="107.6" y2="396.6" stroke="#000" stroke-width="1.4" shape-rendering="crispEdges"/>
<line x1="71.8" y1="404.1" x2="106.6" y2="404.1" stroke="#000" stroke-width="1" shape-rendering="crispEdges"/>
<rect x="107.2" y="368" width="2.6" height="50" fill="#000" shape-rendering="crispEdges"/>
<circle cx="73" cy="400.2" r="1.6" stroke="#000" stroke-width="1.3" fill="none"/>
<circle cx="104.6" cy="400.2" r="1.6" stroke="#000" stroke-width="1.3" fill="none"/>
<line x1="70.4" y1="396.6" x2="70.4" y2="458.5" stroke="#000" stroke-width="1" shape-rendering="crispEdges"/>
<line x1="106.6" y1="403.9" x2="106.6" y2="461.2" stroke="#000" stroke-width="1" shape-rendering="crispEdges"/>
<rect x="64" y="420" width="2" height="38.5" fill="#000" shape-rendering="crispEdges"/>
<line x1="66.9" y1="419.4" x2="66.9" y2="459.7" stroke="#000" stroke-width="1" shape-rendering="crispEdges"/>
<line x1="64.4" y1="419.4" x2="71.1" y2="419.4" stroke="#000" stroke-width="1" shape-rendering="crispEdges"/>
<line x1="109.7" y1="421" x2="109.7" y2="461" stroke="#000" stroke-width="1" shape-rendering="crispEdges"/>
<line x1="70.4" y1="456.6" x2="106.6" y2="456.6" stroke="#000" stroke-width="1" shape-rendering="crispEdges"/>
<circle cx="73.1" cy="458.5" r="1.6" stroke="#000" stroke-width="1" fill="#000"/>
<circle cx="104.2" cy="458.5" r="1.6" stroke="#000" stroke-width="0.8" fill="none"/>
<line x1="71.3" y1="461.2" x2="107" y2="461.2" stroke="#000" stroke-width="1" shape-rendering="crispEdges"/>
<line x1="71.3" y1="464.2" x2="107" y2="464.2" stroke="#000" stroke-width="0.8" shape-rendering="crispEdges"/>
<line x1="71.3" y1="468" x2="107" y2="468" stroke="#000" stroke-width="1.6" shape-rendering="crispEdges"/>
<line x1="71.3" y1="461.2" x2="71.3" y2="468" stroke="#000" stroke-width="1" shape-rendering="crispEdges"/>
<line x1="107" y1="461.2" x2="107" y2="468" stroke="#000" stroke-width="1" shape-rendering="crispEdges"/>
<line x1="109.8" y1="377.9" x2="113.9" y2="377.9" stroke="#000" stroke-width="1" shape-rendering="crispEdges"/>
<line x1="109.8" y1="408.6" x2="113.9" y2="408.6" stroke="#000" stroke-width="1" shape-rendering="crispEdges"/>
<path d="M155.5,375.7 L160.5,379 L160.5,407.6 L155.5,411.1" stroke="#000" stroke-width="1.1" fill="none"/>
<line x1="112.9" y1="376" x2="155.5" y2="376" stroke="#000" stroke-width="2.2" shape-rendering="crispEdges"/>
<line x1="112.9" y1="410.8" x2="155.5" y2="410.8" stroke="#000" stroke-width="2.2" shape-rendering="crispEdges"/>
<line x1="113.9" y1="375.7" x2="113.9" y2="411.1" stroke="#000" stroke-width="1" shape-rendering="crispEdges"/>
<line x1="113.9" y1="378.9" x2="145.6" y2="378.9" stroke="#000" stroke-width="1" shape-rendering="crispEdges"/>
<line x1="113.9" y1="408.1" x2="145.6" y2="408.1" stroke="#000" stroke-width="1" shape-rendering="crispEdges"/>
<line x1="145.6" y1="378.9" x2="145.6" y2="408.1" stroke="#000" stroke-width="1" shape-rendering="crispEdges"/>
<line x1="114.9" y1="385.8" x2="129.3" y2="385.8" stroke="#000" stroke-width="1" shape-rendering="crispEdges"/>
<line x1="114.9" y1="388.3" x2="129.3" y2="388.3" stroke="#000" stroke-width="1" shape-rendering="crispEdges"/>
<line x1="114.9" y1="390.8" x2="129.3" y2="390.8" stroke="#000" stroke-width="1" shape-rendering="crispEdges"/>
<line x1="114.9" y1="393.3" x2="129.3" y2="393.3" stroke="#000" stroke-width="1" shape-rendering="crispEdges"/>
<line x1="114.9" y1="395.8" x2="129.3" y2="395.8" stroke="#000" stroke-width="1" shape-rendering="crispEdges"/>
<line x1="114.9" y1="398.3" x2="129.3" y2="398.3" stroke="#000" stroke-width="1" shape-rendering="crispEdges"/>
<line x1="114.9" y1="400.8" x2="129.3" y2="400.8" stroke="#000" stroke-width="1" shape-rendering="crispEdges"/>
<rect x="129.3" y="384.3" width="17.3" height="16.9" stroke="#000" stroke-width="1" fill="none" rx="0" shape-rendering="crispEdges"/>
<line x1="132.7" y1="393.5" x2="168" y2="393.5" stroke="#000" stroke-width="0.8" stroke-dasharray="7,2,1,2" shape-rendering="crispEdges"/>
<line x1="58.7" y1="440.3" x2="113.5" y2="440.3" stroke="#000" stroke-width="0.8" stroke-dasharray="7,2,1,2" shape-rendering="crispEdges"/>
<line x1="28.3" y1="428.3" x2="28.3" y2="452.2" stroke="#000" stroke-width="1" shape-rendering="crispEdges"/>
<rect x="27" y="430" width="3" height="4" fill="#000" shape-rendering="crispEdges"/>
<rect x="27" y="446" width="3" height="4" fill="#000" shape-rendering="crispEdges"/>
<line x1="28" y1="428.3" x2="64" y2="428.3" stroke="#000" stroke-width="1" shape-rendering="crispEdges"/>
<line x1="28" y1="452.2" x2="64" y2="452.2" stroke="#000" stroke-width="1" shape-rendering="crispEdges"/>
<text x="26.5" y="439.5" font-size="11" font-weight="bold" text-anchor="middle" font-family="Liberation Sans" letter-spacing="0.6" transform="rotate(-90 26.5 439.5)">Φ74<tspan font-size="6" font-weight="normal" dx="0.5">k6</tspan></text>
<line x1="42.9" y1="479.1" x2="76.8" y2="479.1" stroke="#000" stroke-width="1" shape-rendering="crispEdges"/>
<rect x="57" y="478" width="4" height="3" fill="#000" shape-rendering="crispEdges"/>
<rect x="69" y="478" width="4" height="3" fill="#000" shape-rendering="crispEdges"/>
<line x1="66" y1="468" x2="66" y2="482" stroke="#000" stroke-width="1" shape-rendering="crispEdges"/>
<text x="46.5" y="476.8" font-size="11" font-weight="bold" text-anchor="middle" font-family="Liberation Sans" letter-spacing="0.6">2</text>
<line x1="47.9" y1="431.3" x2="47.9" y2="448.3" stroke="#000" stroke-width="1" shape-rendering="crispEdges"/>
<rect x="46" y="433" width="3" height="4" fill="#000" shape-rendering="crispEdges"/>
<rect x="46" y="442" width="3" height="4" fill="#000" shape-rendering="crispEdges"/>
<text x="46" y="439.2" font-size="10.5" font-weight="bold" text-anchor="middle" font-family="Liberation Sans" letter-spacing="0.6" transform="rotate(-90 46 439.2)">Φ40</text>
<line x1="47.9" y1="431.3" x2="64" y2="431.3" stroke="#000" stroke-width="1" shape-rendering="crispEdges"/>
<line x1="47.9" y1="448.3" x2="64" y2="448.3" stroke="#000" stroke-width="1" shape-rendering="crispEdges"/>
<line x1="63.3" y1="431.3" x2="63.3" y2="448.3" stroke="#000" stroke-width="1" shape-rendering="crispEdges"/>
<line x1="110.5" y1="426.2" x2="124.5" y2="426.2" stroke="#000" stroke-width="2" shape-rendering="crispEdges"/>
<line x1="124.5" y1="425.2" x2="124.5" y2="454.3" stroke="#000" stroke-width="2" shape-rendering="crispEdges"/>
<line x1="110.5" y1="454.3" x2="148.5" y2="454.3" stroke="#000" stroke-width="1" shape-rendering="crispEdges"/>
<line x1="124" y1="454.3" x2="124" y2="500" stroke="#000" stroke-width="1" shape-rendering="crispEdges"/>
<line x1="113.5" y1="440.3" x2="127" y2="440.3" stroke="#000" stroke-width="0.8" stroke-dasharray="7,2,1,2" shape-rendering="crispEdges"/>
<line x1="147.6" y1="428.8" x2="147.6" y2="454.3" stroke="#000" stroke-width="1" shape-rendering="crispEdges"/>
<rect x="146" y="448" width="3" height="4" fill="#000" shape-rendering="crispEdges"/>
<text x="143.8" y="438.7" font-size="10.5" font-weight="bold" text-anchor="middle" font-family="Liberation Sans" letter-spacing="0.6" transform="rotate(-90 143.8 438.7)">?58</text>
<line x1="64.4" y1="498.3" x2="124" y2="498.3" stroke="#000" stroke-width="1" shape-rendering="crispEdges"/>
<rect x="66" y="497" width="4" height="3" fill="#000" shape-rendering="crispEdges"/>
<rect x="118" y="497" width="4" height="3" fill="#000" shape-rendering="crispEdges"/>
<text x="93.6" y="496" font-size="11" font-weight="bold" text-anchor="middle" font-family="Liberation Sans" letter-spacing="0.6">131</text>
</g>
<g transform="translate(439.3,0)">
<line x1="64.4" y1="336.5" x2="107.6" y2="336.5" stroke="#000" stroke-width="1" shape-rendering="crispEdges"/>
<rect x="66" y="335" width="4" height="3" fill="#000" shape-rendering="crispEdges"/>
<rect x="102" y="335" width="4" height="3" fill="#000" shape-rendering="crispEdges"/>
<text x="84.6" y="334.8" font-size="11" font-weight="bold" text-anchor="middle" font-family="Liberation Sans" letter-spacing="0.6">95</text>
<line x1="52.7" y1="351.7" x2="93" y2="351.7" stroke="#000" stroke-width="1" shape-rendering="crispEdges"/>
<rect x="59" y="350" width="4" height="3" fill="#000" shape-rendering="crispEdges"/>
<rect x="73" y="350" width="4" height="3" fill="#000" shape-rendering="crispEdges"/>
<text x="87.3" y="349.1" font-size="11" font-weight="bold" text-anchor="middle" font-family="Liberation Sans" letter-spacing="0.6">3</text>
<line x1="64.4" y1="335.5" x2="64.4" y2="500" stroke="#000" stroke-width="1" shape-rendering="crispEdges"/>
<line x1="71.1" y1="350.5" x2="71.1" y2="419.5" stroke="#000" stroke-width="1" shape-rendering="crispEdges"/>
<line x1="107.6" y1="335.5" x2="107.6" y2="368.5" stroke="#000" stroke-width="1" shape-rendering="crispEdges"/>
<path d="M71.8,396.5 L71.8,372 Q72.5,369 75,369 L107.6,369" stroke="#000" stroke-width="1.3" fill="none"/>
<line x1="87.6" y1="369" x2="87.6" y2="455" stroke="#000" stroke-width="1" shape-rendering="crispEdges"/>
<line x1="91.3" y1="369" x2="91.3" y2="455" stroke="#000" stroke-width="1" shape-rendering="crispEdges"/>
<path d="M72,387 Q80,385 86.4,377.5 L86.4,386.5" stroke="#000" stroke-width="1.1" fill="none"/>
<path d="M72,389 L86.4,380.5 M72,392 L86.4,383.5 M72,395 L86.4,386.5" stroke="#000" stroke-width="1.3" fill="none"/>
<ellipse cx="76.7" cy="374.4" rx="2.5" ry="1.9" stroke="#000" stroke-width="1.1" fill="none"/>
<line x1="71.8" y1="396.6" x2="107.6" y2="396.6" stroke="#000" stroke-width="1.4" shape-rendering="crispEdges"/>
<line x1="71.8" y1="404.1" x2="106.6" y2="404.1" stroke="#000" stroke-width="1" shape-rendering="crispEdges"/>
<rect x="107.2" y="368" width="2.6" height="50" fill="#000" shape-rendering="crispEdges"/>
<circle cx="73" cy="400.2" r="1.6" stroke="#000" stroke-width="1.3" fill="none"/>
<circle cx="104.6" cy="400.2" r="1.6" stroke="#000" stroke-width="1.3" fill="none"/>
<line x1="70.4" y1="396.6" x2="70.4" y2="458.5" stroke="#000" stroke-width="1" shape-rendering="crispEdges"/>
<line x1="106.6" y1="403.9" x2="106.6" y2="461.2" stroke="#000" stroke-width="1" shape-rendering="crispEdges"/>
<rect x="64" y="420" width="2" height="38.5" fill="#000" shape-rendering="crispEdges"/>
<line x1="66.9" y1="419.4" x2="66.9" y2="459.7" stroke="#000" stroke-width="1" shape-rendering="crispEdges"/>
<line x1="64.4" y1="419.4" x2="71.1" y2="419.4" stroke="#000" stroke-width="1" shape-rendering="crispEdges"/>
<line x1="109.7" y1="421" x2="109.7" y2="461" stroke="#000" stroke-width="1" shape-rendering="crispEdges"/>
<line x1="70.4" y1="456.6" x2="106.6" y2="456.6" stroke="#000" stroke-width="1" shape-rendering="crispEdges"/>
<circle cx="73.1" cy="458.5" r="1.6" stroke="#000" stroke-width="1" fill="#000"/>
<circle cx="104.2" cy="458.5" r="1.6" stroke="#000" stroke-width="0.8" fill="none"/>
<line x1="71.3" y1="461.2" x2="107" y2="461.2" stroke="#000" stroke-width="1" shape-rendering="crispEdges"/>
<line x1="71.3" y1="464.2" x2="107" y2="464.2" stroke="#000" stroke-width="0.8" shape-rendering="crispEdges"/>
<line x1="71.3" y1="468" x2="107" y2="468" stroke="#000" stroke-width="1.6" shape-rendering="crispEdges"/>
<line x1="71.3" y1="461.2" x2="71.3" y2="468" stroke="#000" stroke-width="1" shape-rendering="crispEdges"/>
<line x1="107" y1="461.2" x2="107" y2="468" stroke="#000" stroke-width="1" shape-rendering="crispEdges"/>
<line x1="109.8" y1="377.9" x2="113.9" y2="377.9" stroke="#000" stroke-width="1" shape-rendering="crispEdges"/>
<line x1="109.8" y1="408.6" x2="113.9" y2="408.6" stroke="#000" stroke-width="1" shape-rendering="crispEdges"/>
<path d="M155.5,375.7 L160.5,379 L160.5,407.6 L155.5,411.1" stroke="#000" stroke-width="1.1" fill="none"/>
<line x1="112.9" y1="376" x2="155.5" y2="376" stroke="#000" stroke-width="2.2" shape-rendering="crispEdges"/>
<line x1="112.9" y1="410.8" x2="155.5" y2="410.8" stroke="#000" stroke-width="2.2" shape-rendering="crispEdges"/>
<line x1="113.9" y1="375.7" x2="113.9" y2="411.1" stroke="#000" stroke-width="1" shape-rendering="crispEdges"/>
<line x1="113.9" y1="378.9" x2="145.6" y2="378.9" stroke="#000" stroke-width="1" shape-rendering="crispEdges"/>
<line x1="113.9" y1="408.1" x2="145.6" y2="408.1" stroke="#000" stroke-width="1" shape-rendering="crispEdges"/>
<line x1="145.6" y1="378.9" x2="145.6" y2="408.1" stroke="#000" stroke-width="1" shape-rendering="crispEdges"/>
<line x1="114.9" y1="385.8" x2="129.3" y2="385.8" stroke="#000" stroke-width="1" shape-rendering="crispEdges"/>
<line x1="114.9" y1="388.3" x2="129.3" y2="388.3" stroke="#000" stroke-width="1" shape-rendering="crispEdges"/>
<line x1="114.9" y1="390.8" x2="129.3" y2="390.8" stroke="#000" stroke-width="1" shape-rendering="crispEdges"/>
<line x1="114.9" y1="393.3" x2="129.3" y2="393.3" stroke="#000" stroke-width="1" shape-rendering="crispEdges"/>
<line x1="114.9" y1="395.8" x2="129.3" y2="395.8" stroke="#000" stroke-width="1" shape-rendering="crispEdges"/>
<line x1="114.9" y1="398.3" x2="129.3" y2="398.3" stroke="#000" stroke-width="1" shape-rendering="crispEdges"/>
<line x1="114.9" y1="400.8" x2="129.3" y2="400.8" stroke="#000" stroke-width="1" shape-rendering="crispEdges"/>
<rect x="129.3" y="384.3" width="17.3" height="16.9" stroke="#000" stroke-width="1" fill="none" rx="0" shape-rendering="crispEdges"/>
<line x1="132.7" y1="393.5" x2="168" y2="393.5" stroke="#000" stroke-width="0.8" stroke-dasharray="7,2,1,2" shape-rendering="crispEdges"/>
<line x1="58.7" y1="440.3" x2="113.5" y2="440.3" stroke="#000" stroke-width="0.8" stroke-dasharray="7,2,1,2" shape-rendering="crispEdges"/>
<line x1="28.3" y1="428.3" x2="28.3" y2="452.2" stroke="#000" stroke-width="1" shape-rendering="crispEdges"/>
<rect x="27" y="430" width="3" height="4" fill="#000" shape-rendering="crispEdges"/>
<rect x="27" y="446" width="3" height="4" fill="#000" shape-rendering="crispEdges"/>
<line x1="28" y1="428.3" x2="64" y2="428.3" stroke="#000" stroke-width="1" shape-rendering="crispEdges"/>
<line x1="28" y1="452.2" x2="64" y2="452.2" stroke="#000" stroke-width="1" shape-rendering="crispEdges"/>
<text x="26.5" y="439.5" font-size="11" font-weight="bold" text-anchor="middle" font-family="Liberation Sans" letter-spacing="0.6" transform="rotate(-90 26.5 439.5)">Φ74<tspan font-size="6" font-weight="normal" dx="0.5">k6</tspan></text>
<line x1="42.9" y1="479.1" x2="76.8" y2="479.1" stroke="#000" stroke-width="1" shape-rendering="crispEdges"/>
<rect x="57" y="478" width="4" height="3" fill="#000" shape-rendering="crispEdges"/>
<rect x="69" y="478" width="4" height="3" fill="#000" shape-rendering="crispEdges"/>
<line x1="66" y1="468" x2="66" y2="482" stroke="#000" stroke-width="1" shape-rendering="crispEdges"/>
<text x="46.5" y="476.8" font-size="11" font-weight="bold" text-anchor="middle" font-family="Liberation Sans" letter-spacing="0.6">2</text>
<line x1="110.2" y1="461" x2="110.2" y2="498" stroke="#000" stroke-width="1" shape-rendering="crispEdges"/>
<line x1="64.4" y1="497" x2="110.2" y2="497" stroke="#000" stroke-width="1" shape-rendering="crispEdges"/>
<rect x="66" y="495" width="4" height="3" fill="#000" shape-rendering="crispEdges"/>
<rect x="104" y="495" width="4" height="3" fill="#000" shape-rendering="crispEdges"/>
<text x="87.3" y="494.6" font-size="11" font-weight="bold" text-anchor="middle" font-family="Liberation Sans" letter-spacing="0.6">104</text>
<rect x="111" y="435.5" width="2.2" height="9" fill="#000" shape-rendering="crispEdges"/>
</g>
<text x="62.9" y="302" font-size="14.5" font-weight="bold" text-anchor="start" font-family="Liberation Sans" letter-spacing="2.1">JFAZ27..</text>
<text x="293.4" y="301.7" font-size="14.5" font-weight="bold" text-anchor="start" font-family="Liberation Sans" letter-spacing="2.1">JFHZ27..</text>
<text x="292.6" y="316.8" font-size="9.5" font-weight="bold" text-anchor="start" font-family="Liberation Sans" letter-spacing="1.2">max.Y<tspan font-size="7" dy="1">2</tspan><tspan dy="-1">80..</tspan></text>
<text x="496.5" y="302.6" font-size="14.5" font-weight="bold" text-anchor="start" font-family="Liberation Sans" letter-spacing="2.1">JFVZ27..</text>
<line x1="51.4" y1="534.9" x2="135.4" y2="534.9" stroke="#000" stroke-width="1" shape-rendering="crispEdges"/>
<rect x="53" y="533" width="4" height="3" fill="#000" shape-rendering="crispEdges"/>
<rect x="129" y="533" width="4" height="3" fill="#000" shape-rendering="crispEdges"/>
<text x="93.4" y="532" font-size="11" font-weight="bold" text-anchor="middle" font-family="Liberation Sans" letter-spacing="0.6">104</text>
<line x1="51.4" y1="529" x2="51.4" y2="664" stroke="#000" stroke-width="1" shape-rendering="crispEdges"/>
<line x1="135.4" y1="529" x2="135.4" y2="581" stroke="#000" stroke-width="1" shape-rendering="crispEdges"/>
<path d="M51.4,582.3 L54.4,579.3 M53.2,583.5 L57.4,579.3 M56.2,583.5 L60.4,579.3 M59.2,583.5 L63.4,579.3 M62.2,583.5 L66.4,579.3 M65.2,583.5 L69.4,579.3 M68.2,583.5 L72.4,579.3 M71.2,583.5 L75.4,579.3 M74.2,583.5 L78.4,579.3 M77.2,583.5 L81.4,579.3 M80.2,583.5 L84.4,579.3 M83.2,583.5 L87.4,579.3 M86.2,583.5 L90.4,579.3 M89.2,583.5 L93.4,579.3 M92.2,583.5 L96.4,579.3 M95.2,583.5 L99.4,579.3 M98.2,583.5 L102.4,579.3 M101.2,583.5 L105.4,579.3 M104.2,583.5 L108.4,579.3 M107.2,583.5 L111.4,579.3 M110.2,583.5 L114.4,579.3 M113.2,583.5 L117.4,579.3 M116.2,583.5 L120.4,579.3 M119.2,583.5 L123.4,579.3 M122.2,583.5 L123.9,581.8" stroke="#000" stroke-width="1.0" fill="none"/>
<path d="M51.4,606.3 L54.4,603.3 M52.9,607.8 L57.4,603.3 M55.9,607.8 L60.4,603.3 M58.9,607.8 L63.4,603.3 M61.9,607.8 L66.4,603.3 M64.9,607.8 L69.4,603.3 M67.9,607.8 L72.4,603.3 M70.9,607.8 L75.4,603.3 M73.9,607.8 L78.4,603.3 M76.9,607.8 L81.4,603.3 M79.9,607.8 L84.4,603.3 M82.9,607.8 L87.4,603.3 M85.9,607.8 L90.4,603.3 M88.9,607.8 L93.4,603.3 M91.9,607.8 L96.4,603.3 M94.9,607.8 L99.4,603.3 M97.9,607.8 L102.4,603.3 M100.9,607.8 L105.4,603.3 M103.9,607.8 L108.4,603.3 M106.9,607.8 L111.4,603.3 M109.9,607.8 L114.4,603.3 M112.9,607.8 L117.4,603.3 M115.9,607.8 L120.4,603.3 M118.9,607.8 L123.4,603.3 M121.9,607.8 L123.9,605.8" stroke="#000" stroke-width="1.0" fill="none"/>
<path d="M95.4,578.4 L98.4,575.4 M97.5,579.3 L101.4,575.4 M100.5,579.3 L104.4,575.4 M103.5,579.3 L107.4,575.4 M106.5,579.3 L110.4,575.4 M109.5,579.3 L113.4,575.4 M112.5,579.3 L114.7,577.1" stroke="#000" stroke-width="1.0" fill="none"/>
<path d="M95.9,610.3 L98.4,607.8 M98.9,610.3 L101.4,607.8 M101.9,610.3 L104.4,607.8 M104.9,610.3 L107.4,607.8 M107.9,610.3 L110.4,607.8 M110.9,610.3 L113.4,607.8 M113.9,610.3 L114.7,609.5" stroke="#000" stroke-width="1.0" fill="none"/>
<line x1="17.4" y1="579.3" x2="123.9" y2="579.3" stroke="#000" stroke-width="1" shape-rendering="crispEdges"/>
<line x1="71" y1="578.5" x2="123.9" y2="578.5" stroke="#000" stroke-width="0.8" shape-rendering="crispEdges"/>
<line x1="51.4" y1="583.5" x2="123.9" y2="583.5" stroke="#000" stroke-width="1" shape-rendering="crispEdges"/>
<line x1="51.4" y1="603.3" x2="123.9" y2="603.3" stroke="#000" stroke-width="1" shape-rendering="crispEdges"/>
<line x1="17.4" y1="607.3" x2="123.9" y2="607.3" stroke="#000" stroke-width="1" shape-rendering="crispEdges"/>
<rect x="95.4" y="575.4" width="19.3" height="3.9" stroke="#000" stroke-width="0.9" fill="none" rx="0" shape-rendering="crispEdges"/>
<rect x="95.4" y="607.6" width="19.3" height="2.9" stroke="#000" stroke-width="0.9" fill="none" rx="0" shape-rendering="crispEdges"/>
<line x1="63.2" y1="583.5" x2="63.2" y2="603.3" stroke="#000" stroke-width="2" shape-rendering="crispEdges"/>
<rect x="123.9" y="580" width="14.3" height="26" stroke="#000" stroke-width="1.2" fill="none" rx="0" shape-rendering="crispEdges"/>
<path d="M124.0,583.5 L127.0,580.5 M124.0,586.5 L130.0,580.5 M124.0,589.5 L133.0,580.5 M124.0,592.5 L136.0,580.5 M124.0,595.5 L138.0,581.5 M124.0,598.5 L138.0,584.5 M124.0,601.5 L138.0,587.5 M124.0,604.5 L138.0,590.5 M126.0,605.5 L138.0,593.5 M129.0,605.5 L138.0,596.5 M132.0,605.5 L138.0,599.5 M135.0,605.5 L138.0,602.5" stroke="#000" stroke-width="1.0" fill="none"/>
<rect x="109.6" y="589.4" width="16" height="7.6" stroke="#000" stroke-width="1.2" fill="#fff" rx="0" shape-rendering="crispEdges"/>
<line x1="109.6" y1="597" x2="109.6" y2="638" stroke="#000" stroke-width="1" shape-rendering="crispEdges"/>
<line x1="46.6" y1="593.5" x2="138" y2="593.5" stroke="#000" stroke-width="0.8" stroke-dasharray="7,2,1,2" shape-rendering="crispEdges"/>
<line x1="18.5" y1="579.3" x2="18.5" y2="607.1" stroke="#000" stroke-width="1" shape-rendering="crispEdges"/>
<rect x="17" y="581" width="3" height="4" fill="#000" shape-rendering="crispEdges"/>
<rect x="17" y="601" width="3" height="4" fill="#000" shape-rendering="crispEdges"/>
<text x="16.8" y="593.2" font-size="10.5" font-weight="bold" text-anchor="middle" font-family="Liberation Sans" letter-spacing="0.6" transform="rotate(-90 16.8 593.2)">Φ40</text>
<line x1="34.3" y1="583" x2="34.3" y2="648.5" stroke="#000" stroke-width="1" shape-rendering="crispEdges"/>
<rect x="33" y="606" width="3" height="4" fill="#000" shape-rendering="crispEdges"/>
<line x1="33.2" y1="603.5" x2="51.4" y2="603.5" stroke="#000" stroke-width="1" shape-rendering="crispEdges"/>
<text x="32.6" y="647.2" font-size="10.5" font-weight="bold" text-anchor="start" font-family="Liberation Sans" letter-spacing="0.2" transform="rotate(-90 32.6 647.2)">Φ25<tspan font-size="6.3" dy="-4.5" dx="0.6" font-weight="normal">H7</tspan></text>
<line x1="82.8" y1="635.3" x2="131" y2="635.3" stroke="#000" stroke-width="1" shape-rendering="crispEdges"/>
<rect x="103" y="634" width="4" height="3" fill="#000" shape-rendering="crispEdges"/>
<rect x="126" y="634" width="4" height="3" fill="#000" shape-rendering="crispEdges"/>
<text x="88.5" y="632.8" font-size="11" font-weight="bold" text-anchor="middle" font-family="Liberation Sans" letter-spacing="0.6">17</text>
<line x1="51.4" y1="661.5" x2="123.5" y2="661.5" stroke="#000" stroke-width="1" shape-rendering="crispEdges"/>
<rect x="53" y="660" width="4" height="3" fill="#000" shape-rendering="crispEdges"/>
<rect x="118" y="660" width="4" height="3" fill="#000" shape-rendering="crispEdges"/>
<text x="86.5" y="657.6" font-size="11" font-weight="bold" text-anchor="middle" font-family="Liberation Sans" letter-spacing="0.6">89</text>
<line x1="123.5" y1="606" x2="123.5" y2="664" stroke="#000" stroke-width="1" shape-rendering="crispEdges"/>
<path d="M133.6,606 L140.9,625.3 L157.3,625.3" stroke="#000" stroke-width="0.9" fill="none"/>
<path d="M172,613.3 L213.1,613.3 L202.6,637.3 L153.7,637.3 Z" stroke="#000" stroke-width="1" fill="none"/>
<text x="188.5" y="622.8" font-size="9" font-weight="normal" text-anchor="middle" font-family="Liberation Sans">GB5781-86</text>
<text x="181" y="630.7" font-size="9" font-weight="normal" text-anchor="middle" font-family="Liberation Sans">M10x25-8.8</text>
<circle cx="193.3" cy="593.1" r="15.5" stroke="#000" stroke-width="1.6" fill="none"/>
<circle cx="193.3" cy="593.1" r="11.9" stroke="#000" stroke-width="1.2" fill="none"/>
<path d="M205.5,593.1 L207.8,597.6 M205.0,596.5 L206.0,601.5 M203.6,599.7 L203.1,604.7 M201.3,602.3 L199.4,607.0 M198.4,604.2 L195.2,608.2 M195.0,605.2 L190.9,608.1 M191.6,605.2 L186.8,606.8 M188.2,604.2 L183.2,604.4 M185.3,602.3 L180.4,601.1 M183.0,599.7 L178.7,597.2 M181.6,596.5 L178.1,592.9 M181.1,593.1 L178.8,588.6 M181.6,589.7 L180.6,584.7 M183.0,586.5 L183.5,581.5 M185.3,583.9 L187.2,579.2 M188.2,582.0 L191.4,578.0 M191.6,581.0 L195.7,578.1 M195.0,581.0 L199.8,579.4 M198.4,582.0 L203.4,581.8 M201.3,583.9 L206.2,585.1 M203.6,586.5 L207.9,589.0 M205.0,589.7 L208.5,593.3" stroke="#000" stroke-width="1.1" fill="none"/>
<line x1="190.7" y1="561.5" x2="190.7" y2="581.2" stroke="#000" stroke-width="1" shape-rendering="crispEdges"/>
<line x1="195.6" y1="561.5" x2="195.6" y2="581.2" stroke="#000" stroke-width="1" shape-rendering="crispEdges"/>
<line x1="178.8" y1="561.5" x2="217.7" y2="561.5" stroke="#000" stroke-width="1" shape-rendering="crispEdges"/>
<rect x="186" y="560" width="4" height="3" fill="#000" shape-rendering="crispEdges"/>
<rect x="196" y="560" width="4" height="3" fill="#000" shape-rendering="crispEdges"/>
<text x="211.5" y="558.2" font-size="11" font-weight="bold" text-anchor="middle" font-family="Liberation Sans" letter-spacing="0.6">8</text>
<line x1="195.3" y1="581.2" x2="231.6" y2="581.2" stroke="#000" stroke-width="1" shape-rendering="crispEdges"/>
<line x1="203" y1="603" x2="231.6" y2="603" stroke="#000" stroke-width="1" shape-rendering="crispEdges"/>
<line x1="230.6" y1="570" x2="230.6" y2="641.9" stroke="#000" stroke-width="1" shape-rendering="crispEdges"/>
<rect x="229" y="575" width="3" height="4" fill="#000" shape-rendering="crispEdges"/>
<rect x="229" y="606" width="3" height="4" fill="#000" shape-rendering="crispEdges"/>
<text x="228" y="628.4" font-size="11" font-weight="bold" text-anchor="middle" font-family="Liberation Sans" letter-spacing="0.6" transform="rotate(-90 228 628.4)">28.3</text>
<line x1="173.6" y1="593.1" x2="210.5" y2="593.1" stroke="#000" stroke-width="0.8" stroke-dasharray="7,2,1,2" shape-rendering="crispEdges"/>
<line x1="193.3" y1="574.7" x2="193.3" y2="610.9" stroke="#000" stroke-width="0.8" stroke-dasharray="7,2,1,2" shape-rendering="crispEdges"/>
<line x1="290.5" y1="537.1" x2="374.6" y2="537.1" stroke="#000" stroke-width="1" shape-rendering="crispEdges"/>
<rect x="292" y="536" width="4" height="3" fill="#000" shape-rendering="crispEdges"/>
<rect x="369" y="536" width="4" height="3" fill="#000" shape-rendering="crispEdges"/>
<text x="331" y="534.6" font-size="11" font-weight="bold" text-anchor="middle" font-family="Liberation Sans" letter-spacing="0.6">126</text>
<line x1="290.6" y1="531" x2="290.6" y2="674" stroke="#000" stroke-width="1" shape-rendering="crispEdges"/>
<line x1="374.5" y1="531" x2="374.5" y2="671" stroke="#000" stroke-width="1" shape-rendering="crispEdges"/>
<line x1="278.3" y1="564.4" x2="330.7" y2="564.4" stroke="#000" stroke-width="1" shape-rendering="crispEdges"/>
<rect x="286" y="563" width="4" height="3" fill="#000" shape-rendering="crispEdges"/>
<rect x="302" y="563" width="4" height="3" fill="#000" shape-rendering="crispEdges"/>
<line x1="334.4" y1="564.4" x2="385.6" y2="564.4" stroke="#000" stroke-width="1" shape-rendering="crispEdges"/>
<rect x="358" y="563" width="4" height="3" fill="#000" shape-rendering="crispEdges"/>
<rect x="374" y="563" width="4" height="3" fill="#000" shape-rendering="crispEdges"/>
<text x="322" y="561.5" font-size="11" font-weight="bold" text-anchor="middle" font-family="Liberation Sans" letter-spacing="0.6">20</text>
<text x="341.2" y="561.5" font-size="11" font-weight="bold" text-anchor="middle" font-family="Liberation Sans" letter-spacing="0.6">25</text>
<line x1="302.7" y1="564.4" x2="302.7" y2="583" stroke="#000" stroke-width="1" shape-rendering="crispEdges"/>
<line x1="362" y1="564.4" x2="362" y2="568.8" stroke="#000" stroke-width="1" shape-rendering="crispEdges"/>
<line x1="275.1" y1="538.3" x2="275.1" y2="613.5" stroke="#000" stroke-width="1" shape-rendering="crispEdges"/>
<rect x="274" y="576" width="3" height="4" fill="#000" shape-rendering="crispEdges"/>
<rect x="274" y="606" width="3" height="4" fill="#000" shape-rendering="crispEdges"/>
<line x1="406.8" y1="538.3" x2="406.8" y2="613.5" stroke="#000" stroke-width="1" shape-rendering="crispEdges"/>
<rect x="405" y="576" width="3" height="4" fill="#000" shape-rendering="crispEdges"/>
<rect x="405" y="606" width="3" height="4" fill="#000" shape-rendering="crispEdges"/>
<text x="272.9" y="567.9" font-size="10.5" font-weight="bold" text-anchor="start" font-family="Liberation Sans" letter-spacing="0.2" transform="rotate(-90 272.9 567.9)">Φ25<tspan font-size="6.3" dy="-4.5" dx="0.6" font-weight="normal">H7</tspan></text>
<text x="405" y="567.9" font-size="10.5" font-weight="bold" text-anchor="start" font-family="Liberation Sans" letter-spacing="0.2" transform="rotate(-90 405 567.9)">Φ25<tspan font-size="6.3" dy="-4.5" dx="0.6" font-weight="normal">H7</tspan></text>
<line x1="257.3" y1="579.3" x2="257.3" y2="604.6" stroke="#000" stroke-width="1" shape-rendering="crispEdges"/>
<rect x="256" y="581" width="3" height="4" fill="#000" shape-rendering="crispEdges"/>
<rect x="256" y="599" width="3" height="4" fill="#000" shape-rendering="crispEdges"/>
<text x="254.8" y="593" font-size="11" font-weight="bold" text-anchor="middle" font-family="Liberation Sans" letter-spacing="0.6" transform="rotate(-90 254.8 593)">Φ40</text>
<line x1="256.5" y1="579.3" x2="408" y2="579.3" stroke="#000" stroke-width="1" shape-rendering="crispEdges"/>
<line x1="256.5" y1="604.6" x2="408" y2="604.6" stroke="#000" stroke-width="1" shape-rendering="crispEdges"/>
<line x1="276" y1="583.3" x2="408" y2="583.3" stroke="#000" stroke-width="1" shape-rendering="crispEdges"/>
<line x1="276" y1="601.5" x2="408" y2="601.5" stroke="#000" stroke-width="1" shape-rendering="crispEdges"/>
<path d="M290.5,582.3 L293.5,579.3 M292.5,583.3 L296.5,579.3 M295.5,583.3 L299.5,579.3 M298.5,583.3 L302.5,579.3 M301.5,583.3 L305.5,579.3 M304.5,583.3 L308.5,579.3 M307.5,583.3 L311.5,579.3 M310.5,583.3 L314.5,579.3 M313.5,583.3 L317.5,579.3 M316.5,583.3 L320.5,579.3 M319.5,583.3 L323.5,579.3 M322.5,583.3 L326.5,579.3 M325.5,583.3 L329.5,579.3 M328.5,583.3 L332.5,579.3 M331.5,583.3 L335.5,579.3 M334.5,583.3 L338.5,579.3 M337.5,583.3 L341.5,579.3 M340.5,583.3 L344.5,579.3 M343.5,583.3 L347.5,579.3 M346.5,583.3 L350.5,579.3 M349.5,583.3 L353.5,579.3 M352.5,583.3 L356.5,579.3 M355.5,583.3 L359.5,579.3 M358.5,583.3 L362.0,579.8 M361.5,583.3 L362.0,582.8" stroke="#000" stroke-width="1.0" fill="none"/>
<path d="M290.5,604.5 L293.5,601.5 M293.0,605.0 L296.5,601.5 M296.0,605.0 L299.5,601.5 M299.0,605.0 L302.5,601.5 M302.0,605.0 L305.5,601.5 M305.0,605.0 L308.5,601.5 M308.0,605.0 L311.5,601.5 M311.0,605.0 L314.5,601.5 M314.0,605.0 L317.5,601.5 M317.0,605.0 L320.5,601.5 M320.0,605.0 L323.5,601.5 M323.0,605.0 L326.5,601.5 M326.0,605.0 L329.5,601.5 M329.0,605.0 L332.5,601.5 M332.0,605.0 L335.5,601.5 M335.0,605.0 L338.5,601.5 M338.0,605.0 L341.5,601.5 M341.0,605.0 L344.5,601.5 M344.0,605.0 L347.5,601.5 M347.0,605.0 L350.5,601.5 M350.0,605.0 L353.5,601.5 M353.0,605.0 L356.5,601.5 M356.0,605.0 L359.5,601.5 M359.0,605.0 L362.0,602.0" stroke="#000" stroke-width="1.0" fill="none"/>
<path d="M311.2,579.3 L313.0,577.5 M314.2,579.3 L316.0,577.5 M317.2,579.3 L319.0,577.5 M320.2,579.3 L322.0,577.5 M323.2,579.3 L325.0,577.5 M326.2,579.3 L328.0,577.5 M329.2,579.3 L331.0,577.5 M332.2,579.3 L334.0,577.5 M335.2,579.3 L337.0,577.5 M338.2,579.3 L340.0,577.5 M341.2,579.3 L343.0,577.5 M344.2,579.3 L346.0,577.5 M347.2,579.3 L349.0,577.5 M350.2,579.3 L352.0,577.5 M353.2,579.3 L355.0,577.5 M356.2,579.3 L358.0,577.5 M359.2,579.3 L361.0,577.5" stroke="#000" stroke-width="1.0" fill="none"/>
<path d="M311.0,607.0 L313.0,605.0 M314.0,607.0 L316.0,605.0 M317.0,607.0 L319.0,605.0 M320.0,607.0 L322.0,605.0 M323.0,607.0 L325.0,605.0 M326.0,607.0 L328.0,605.0 M329.0,607.0 L331.0,605.0 M332.0,607.0 L334.0,605.0 M335.0,607.0 L337.0,605.0 M338.0,607.0 L340.0,605.0 M341.0,607.0 L343.0,605.0 M344.0,607.0 L346.0,605.0 M347.0,607.0 L349.0,605.0 M350.0,607.0 L352.0,605.0 M353.0,607.0 L355.0,605.0 M356.0,607.0 L358.0,605.0 M359.0,607.0 L361.0,605.0" stroke="#000" stroke-width="1.0" fill="none"/>
<path d="M335.5,577.5 L337.4,575.6 M338.5,577.5 L340.4,575.6 M341.5,577.5 L343.4,575.6 M344.5,577.5 L346.4,575.6 M347.5,577.5 L349.4,575.6 M350.5,577.5 L352.4,575.6 M353.5,577.5 L353.9,577.1" stroke="#000" stroke-width="1.0" fill="none"/>
<path d="M334.4,610.0 L337.4,607.0 M336.8,610.6 L340.4,607.0 M339.8,610.6 L343.4,607.0 M342.8,610.6 L346.4,607.0 M345.8,610.6 L349.4,607.0 M348.8,610.6 L352.4,607.0 M351.8,610.6 L353.9,608.5" stroke="#000" stroke-width="1.0" fill="none"/>
<line x1="290.5" y1="579.3" x2="290.5" y2="605" stroke="#000" stroke-width="1" shape-rendering="crispEdges"/>
<path d="M310,579.3 L310,577.5 L334.4,577.5 L334.4,575.6 L353.9,575.6 L353.9,577.5 L362,577.5" stroke="#000" stroke-width="1" fill="none"/>
<path d="M310,605 L310,607 L334.4,607 L334.4,610.6 L353.9,610.6 L353.9,607 L362,607" stroke="#000" stroke-width="1" fill="none"/>
<line x1="301.8" y1="583.3" x2="301.8" y2="601.5" stroke="#000" stroke-width="2" shape-rendering="crispEdges"/>
<line x1="363.5" y1="583.3" x2="363.5" y2="601.5" stroke="#000" stroke-width="2" shape-rendering="crispEdges"/>
<rect x="362" y="568.8" width="11.4" height="10.5" stroke="#000" stroke-width="1.2" fill="none" rx="0" shape-rendering="crispEdges"/>
<path d="M362.5,571.7 L364.9,569.3 M362.5,574.1 L367.3,569.3 M362.5,576.5 L369.7,569.3 M362.6,578.8 L372.1,569.3 M365.0,578.8 L373.0,570.8 M367.4,578.8 L373.0,573.2 M369.8,578.8 L373.0,575.6 M372.2,578.8 L373.0,578.0" stroke="#000" stroke-width="0.7" fill="none"/>
<path d="M362,574.05 L373.4,574.05 M367.7,568.8 L367.7,579.3" stroke="#000" stroke-width="0.8" fill="none"/>
<rect x="362" y="608" width="11.4" height="10.3" stroke="#000" stroke-width="1.2" fill="none" rx="0" shape-rendering="crispEdges"/>
<path d="M362.5,610.9 L364.9,608.5 M362.5,613.3 L367.3,608.5 M362.5,615.7 L369.7,608.5 M362.8,617.8 L372.1,608.5 M365.2,617.8 L373.0,610.0 M367.6,617.8 L373.0,612.4 M370.0,617.8 L373.0,614.8 M372.4,617.8 L373.0,617.2" stroke="#000" stroke-width="0.7" fill="none"/>
<path d="M362,613.15 L373.4,613.15 M367.7,608 L367.7,618.3" stroke="#000" stroke-width="0.8" fill="none"/>
<line x1="285" y1="593.7" x2="381" y2="593.7" stroke="#000" stroke-width="0.8" stroke-dasharray="7,2,1,2" shape-rendering="crispEdges"/>
<line x1="279.8" y1="631.5" x2="331.9" y2="631.5" stroke="#000" stroke-width="1" shape-rendering="crispEdges"/>
<rect x="286" y="630" width="4" height="3" fill="#000" shape-rendering="crispEdges"/>
<rect x="306" y="630" width="4" height="3" fill="#000" shape-rendering="crispEdges"/>
<text x="324.2" y="628.8" font-size="11" font-weight="bold" text-anchor="middle" font-family="Liberation Sans" letter-spacing="0.6">25</text>
<line x1="348.4" y1="631.5" x2="385.4" y2="631.5" stroke="#000" stroke-width="1" shape-rendering="crispEdges"/>
<rect x="354" y="630" width="4" height="3" fill="#000" shape-rendering="crispEdges"/>
<rect x="376" y="630" width="4" height="3" fill="#000" shape-rendering="crispEdges"/>
<text x="366.5" y="628.8" font-size="11" font-weight="bold" text-anchor="middle" font-family="Liberation Sans" letter-spacing="0.6">30</text>
<line x1="304.5" y1="631.5" x2="304.5" y2="670.8" stroke="#000" stroke-width="1" shape-rendering="crispEdges"/>
<line x1="359.9" y1="631.5" x2="359.9" y2="670.8" stroke="#000" stroke-width="1" shape-rendering="crispEdges"/>
<line x1="252.3" y1="649.4" x2="407" y2="649.4" stroke="#000" stroke-width="1" shape-rendering="crispEdges"/>
<line x1="290.8" y1="649.4" x2="374.5" y2="649.4" stroke="#000" stroke-width="2" shape-rendering="crispEdges"/>
<line x1="252.3" y1="670.2" x2="407" y2="670.2" stroke="#000" stroke-width="1" shape-rendering="crispEdges"/>
<path d="M290.8,645.2 L275,645.2 C272,645.2 270,650 270.5,654 C271,658 274,660 273,663" stroke="#000" stroke-width="1.2" fill="none"/>
<ellipse cx="272.4" cy="666.7" rx="2.8" ry="4.4" stroke="#000" stroke-width="1" fill="none"/>
<path d="M270,664 L275,669 M270,667 L274,671" stroke="#000" stroke-width="0.6" fill="none"/>
<line x1="272.4" y1="674.3" x2="290.8" y2="674.3" stroke="#000" stroke-width="1" shape-rendering="crispEdges"/>
<line x1="290.8" y1="645.2" x2="290.8" y2="674.3" stroke="#000" stroke-width="1" shape-rendering="crispEdges"/>
<line x1="264.7" y1="660.3" x2="377.2" y2="660.3" stroke="#000" stroke-width="0.8" stroke-dasharray="7,2,1,2" shape-rendering="crispEdges"/>
<line x1="252.3" y1="638.4" x2="252.3" y2="717.2" stroke="#000" stroke-width="1" shape-rendering="crispEdges"/>
<rect x="251" y="644" width="3" height="4" fill="#000" shape-rendering="crispEdges"/>
<rect x="251" y="672" width="3" height="4" fill="#000" shape-rendering="crispEdges"/>
<line x1="406" y1="638.4" x2="406" y2="717.2" stroke="#000" stroke-width="1" shape-rendering="crispEdges"/>
<rect x="405" y="644" width="3" height="4" fill="#000" shape-rendering="crispEdges"/>
<rect x="405" y="672" width="3" height="4" fill="#000" shape-rendering="crispEdges"/>
<text x="247.2" y="714" font-size="10.5" font-weight="bold" text-anchor="start" font-family="Liberation Sans" letter-spacing="0.2" transform="rotate(-90 247.2 714)">Φ25<tspan font-size="6.5" dy="3" dx="0.5" font-weight="normal">h6</tspan></text>
<text x="401.6" y="714" font-size="10.5" font-weight="bold" text-anchor="start" font-family="Liberation Sans" letter-spacing="0.2" transform="rotate(-90 401.6 714)">Φ25<tspan font-size="6.5" dy="3" dx="0.5" font-weight="normal">h6</tspan></text>
<line x1="468.4" y1="535.9" x2="552.5" y2="535.9" stroke="#000" stroke-width="1" shape-rendering="crispEdges"/>
<rect x="470" y="534" width="4" height="3" fill="#000" shape-rendering="crispEdges"/>
<rect x="546" y="534" width="4" height="3" fill="#000" shape-rendering="crispEdges"/>
<text x="508.3" y="533" font-size="11" font-weight="bold" text-anchor="middle" font-family="Liberation Sans" letter-spacing="0.6">104</text>
<line x1="468.4" y1="530" x2="468.4" y2="681" stroke="#000" stroke-width="1" shape-rendering="crispEdges"/>
<line x1="552.7" y1="530" x2="552.7" y2="627" stroke="#000" stroke-width="1" shape-rendering="crispEdges"/>
<line x1="476.7" y1="564.4" x2="494.4" y2="564.4" stroke="#000" stroke-width="1" shape-rendering="crispEdges"/>
<rect x="478" y="563" width="4" height="3" fill="#000" shape-rendering="crispEdges"/>
<rect x="490" y="563" width="4" height="3" fill="#000" shape-rendering="crispEdges"/>
<line x1="476.7" y1="564.4" x2="476.7" y2="580" stroke="#000" stroke-width="1" shape-rendering="crispEdges"/>
<line x1="494.4" y1="564.4" x2="494.4" y2="580" stroke="#000" stroke-width="1" shape-rendering="crispEdges"/>
<text x="484.6" y="561.6" font-size="11" font-weight="bold" text-anchor="middle" font-family="Liberation Sans" letter-spacing="0.6">22</text>
<line x1="525" y1="564.3" x2="543.5" y2="564.3" stroke="#000" stroke-width="1" shape-rendering="crispEdges"/>
<rect x="528" y="563" width="4" height="3" fill="#000" shape-rendering="crispEdges"/>
<rect x="536" y="563" width="4" height="3" fill="#000" shape-rendering="crispEdges"/>
<line x1="525.5" y1="564.3" x2="525.5" y2="580" stroke="#000" stroke-width="1" shape-rendering="crispEdges"/>
<line x1="543.5" y1="564.3" x2="543.5" y2="578" stroke="#000" stroke-width="1" shape-rendering="crispEdges"/>
<text x="533.4" y="561.4" font-size="11" font-weight="bold" text-anchor="middle" font-family="Liberation Sans" letter-spacing="0.6">22</text>
<path d="M472.7,582.3 L475.7,579.3 M474.5,583.5 L478.7,579.3 M477.5,583.5 L481.7,579.3 M480.5,583.5 L484.7,579.3 M483.5,583.5 L487.7,579.3 M486.5,583.5 L490.7,579.3 M489.5,583.5 L493.7,579.3 M492.5,583.5 L496.7,579.3 M495.5,583.5 L499.7,579.3 M498.5,583.5 L502.7,579.3 M501.5,583.5 L505.7,579.3 M504.5,583.5 L508.7,579.3 M507.5,583.5 L511.7,579.3 M510.5,583.5 L514.7,579.3 M513.5,583.5 L517.7,579.3 M516.5,583.5 L520.7,579.3 M519.5,583.5 L523.7,579.3 M522.5,583.5 L526.7,579.3 M525.5,583.5 L529.7,579.3 M528.5,583.5 L532.7,579.3 M531.5,583.5 L535.7,579.3 M534.5,583.5 L538.7,579.3 M537.5,583.5 L541.7,579.3 M540.5,583.5 L544.7,579.3 M543.5,583.5 L545.0,582.0" stroke="#000" stroke-width="1.0" fill="none"/>
<path d="M472.7,606.5 L475.7,603.5 M474.5,607.7 L478.7,603.5 M477.5,607.7 L481.7,603.5 M480.5,607.7 L484.7,603.5 M483.5,607.7 L487.7,603.5 M486.5,607.7 L490.7,603.5 M489.5,607.7 L493.7,603.5 M492.5,607.7 L496.7,603.5 M495.5,607.7 L499.7,603.5 M498.5,607.7 L502.7,603.5 M501.5,607.7 L505.7,603.5 M504.5,607.7 L508.7,603.5 M507.5,607.7 L511.7,603.5 M510.5,607.7 L514.7,603.5 M513.5,607.7 L517.7,603.5 M516.5,607.7 L520.7,603.5 M519.5,607.7 L523.7,603.5 M522.5,607.7 L526.7,603.5 M525.5,607.7 L529.7,603.5 M528.5,607.7 L532.7,603.5 M531.5,607.7 L535.7,603.5 M534.5,607.7 L538.7,603.5 M537.5,607.7 L541.7,603.5 M540.5,607.7 L544.7,603.5 M543.5,607.7 L545.0,606.2" stroke="#000" stroke-width="1.0" fill="none"/>
<path d="M512.6,578.9 L515.6,575.9 M515.2,579.3 L518.6,575.9 M518.2,579.3 L521.6,575.9 M521.2,579.3 L524.6,575.9 M524.2,579.3 L527.6,575.9 M527.2,579.3 L530.6,575.9 M530.2,579.3 L531.8,577.7" stroke="#000" stroke-width="1.0" fill="none"/>
<path d="M512.9,610.4 L515.6,607.7 M515.9,610.4 L518.6,607.7 M518.9,610.4 L521.6,607.7 M521.9,610.4 L524.6,607.7 M524.9,610.4 L527.6,607.7 M527.9,610.4 L530.6,607.7 M530.9,610.4 L531.8,609.5" stroke="#000" stroke-width="1.0" fill="none"/>
<line x1="467.4" y1="579.3" x2="552.7" y2="579.3" stroke="#000" stroke-width="1" shape-rendering="crispEdges"/>
<line x1="467.4" y1="607.7" x2="552.7" y2="607.7" stroke="#000" stroke-width="1" shape-rendering="crispEdges"/>
<line x1="472.7" y1="583.5" x2="525" y2="583.5" stroke="#000" stroke-width="1" shape-rendering="crispEdges"/>
<line x1="472.7" y1="603.5" x2="525" y2="603.5" stroke="#000" stroke-width="1" shape-rendering="crispEdges"/>
<path d="M512.6,579.3 L512.6,575.9 L531.8,575.9 L531.8,579.3" stroke="#000" stroke-width="1" fill="none"/>
<path d="M512.6,607.7 L512.6,610.4 L531.8,610.4 L531.8,607.7" stroke="#000" stroke-width="1" fill="none"/>
<line x1="467.4" y1="579.3" x2="467.4" y2="607.7" stroke="#000" stroke-width="1.5" shape-rendering="crispEdges"/>
<line x1="469.6" y1="579.3" x2="469.6" y2="607.7" stroke="#000" stroke-width="0.8" shape-rendering="crispEdges"/>
<line x1="472.2" y1="579.3" x2="472.2" y2="607.7" stroke="#000" stroke-width="1.8" shape-rendering="crispEdges"/>
<rect x="545" y="579.3" width="7.4" height="28.4" stroke="#000" stroke-width="1.2" fill="none" rx="0" shape-rendering="crispEdges"/>
<path d="M545.5,582.6 L548.3,579.8 M545.5,585.4 L551.1,579.8 M545.5,588.2 L552.0,581.7 M545.5,591.0 L552.0,584.5 M545.5,593.8 L552.0,587.3 M545.5,596.6 L552.0,590.1 M545.5,599.4 L552.0,592.9 M545.5,602.2 L552.0,595.7 M545.5,605.0 L552.0,598.5 M546.1,607.2 L552.0,601.3 M548.9,607.2 L552.0,604.1 M551.7,607.2 L552.0,606.9" stroke="#000" stroke-width="0.8" fill="none"/>
<rect x="541" y="585" width="6.7" height="14.5" stroke="#000" stroke-width="1" fill="none" rx="0" shape-rendering="crispEdges"/>
<path d="M541,587.5 L547.7,587.5 M541,590 L547.7,590 M541,596.5 L547.7,596.5" stroke="#000" stroke-width="0.6" fill="none"/>
<rect x="525" y="589" width="16" height="8.6" stroke="#000" stroke-width="1.2" fill="#fff" rx="0" shape-rendering="crispEdges"/>
<line x1="529" y1="589" x2="529" y2="597.6" stroke="#000" stroke-width="0.6" shape-rendering="crispEdges"/>
<path d="M525.0,585.9 L527.4,583.5 M525.0,588.3 L529.8,583.5 M526.7,589.0 L532.2,583.5 M529.1,589.0 L534.6,583.5 M531.5,589.0 L537.0,583.5 M533.9,589.0 L539.4,583.5 M536.3,589.0 L541.0,584.3 M538.7,589.0 L541.0,586.7" stroke="#000" stroke-width="0.6" fill="none"/>
<path d="M525.0,600.0 L527.4,597.6 M525.0,602.4 L529.8,597.6 M526.3,603.5 L532.2,597.6 M528.7,603.5 L534.6,597.6 M531.1,603.5 L537.0,597.6 M533.5,603.5 L539.4,597.6 M535.9,603.5 L541.0,598.4 M538.3,603.5 L541.0,600.8 M540.7,603.5 L541.0,603.2" stroke="#000" stroke-width="0.6" fill="none"/>
<line x1="463.5" y1="593.4" x2="556" y2="593.4" stroke="#000" stroke-width="0.8" stroke-dasharray="7,2,1,2" shape-rendering="crispEdges"/>
<line x1="448.5" y1="583.2" x2="448.5" y2="603.3" stroke="#000" stroke-width="1" shape-rendering="crispEdges"/>
<rect x="447" y="585" width="3" height="4" fill="#000" shape-rendering="crispEdges"/>
<rect x="447" y="597" width="3" height="4" fill="#000" shape-rendering="crispEdges"/>
<line x1="447" y1="583.2" x2="468" y2="583.2" stroke="#000" stroke-width="1" shape-rendering="crispEdges"/>
<line x1="447" y1="603.3" x2="468" y2="603.3" stroke="#000" stroke-width="1" shape-rendering="crispEdges"/>
<text x="446.6" y="610.3" font-size="10.5" font-weight="bold" text-anchor="start" font-family="Liberation Sans" letter-spacing="0.6" transform="rotate(-90 446.6 610.3)">Φ32<tspan font-size="7.5" dy="-4" dx="1" font-weight="normal" letter-spacing="0.6">+0.1</tspan></text>
<line x1="456" y1="621.1" x2="504" y2="621.1" stroke="#000" stroke-width="1" shape-rendering="crispEdges"/>
<rect x="464" y="620" width="4" height="3" fill="#000" shape-rendering="crispEdges"/>
<rect x="477" y="620" width="4" height="3" fill="#000" shape-rendering="crispEdges"/>
<text x="495.1" y="619" font-size="11" font-weight="bold" text-anchor="middle" font-family="Liberation Sans" letter-spacing="0.6">17</text>
<line x1="476.7" y1="600" x2="476.7" y2="625" stroke="#000" stroke-width="1" shape-rendering="crispEdges"/>
<line x1="531.8" y1="621.1" x2="580" y2="621.1" stroke="#000" stroke-width="1" shape-rendering="crispEdges"/>
<rect x="540" y="620" width="4" height="3" fill="#000" shape-rendering="crispEdges"/>
<rect x="553" y="620" width="4" height="3" fill="#000" shape-rendering="crispEdges"/>
<text x="570.8" y="619" font-size="11" font-weight="bold" text-anchor="middle" font-family="Liberation Sans" letter-spacing="0.6">17</text>
<line x1="544" y1="610" x2="544" y2="625" stroke="#000" stroke-width="1" shape-rendering="crispEdges"/>
<path d="M546.8,578.6 L560.2,560.5 L566,560.5" stroke="#000" stroke-width="0.9" fill="none"/>
<path d="M570.3,549.2 L618.1,549.2 L608.9,574.4 L559.4,574.4 Z" stroke="#000" stroke-width="1" fill="none"/>
<text x="593.4" y="559.3" font-size="9" font-weight="normal" text-anchor="middle" font-family="Liberation Sans">GB5781-86</text>
<text x="586.9" y="567.7" font-size="9" font-weight="normal" text-anchor="middle" font-family="Liberation Sans">M10x30-8.8</text>
<rect x="544.7" y="633.5" width="66.5" height="21.4" stroke="#000" stroke-width="1" fill="none" rx="10.7"/>
<text x="579" y="641.9" font-size="9" font-weight="normal" text-anchor="middle" font-family="Liberation Sans" letter-spacing="0.2">GB3478.1-83</text>
<text x="552.6" y="649.8" font-size="6.5" font-weight="bold" font-family="Liberation Sans" textLength="54" lengthAdjust="spacingAndGlyphs">IFEK 7 28x2.25x9H</text>
<path d="M544.7,643.3 L537.2,643.3 L521.7,688.4" stroke="#000" stroke-width="0.9" fill="none"/>
<line x1="468.2" y1="662.2" x2="532" y2="662.2" stroke="#000" stroke-width="1" shape-rendering="crispEdges"/>
<rect x="470" y="661" width="4" height="3" fill="#000" shape-rendering="crispEdges"/>
<rect x="526" y="661" width="4" height="3" fill="#000" shape-rendering="crispEdges"/>
<text x="494" y="659.8" font-size="11" font-weight="bold" text-anchor="start" font-family="Liberation Sans">7<tspan font-weight="normal" dx="1.2">2</tspan></text>
<line x1="532" y1="662" x2="532" y2="681" stroke="#000" stroke-width="1" shape-rendering="crispEdges"/>
<line x1="468.6" y1="681.2" x2="534" y2="681.2" stroke="#000" stroke-width="1.6" shape-rendering="crispEdges"/>
<line x1="468.6" y1="701.7" x2="534" y2="701.7" stroke="#000" stroke-width="1.6" shape-rendering="crispEdges"/>
<line x1="468.6" y1="683.2" x2="534" y2="683.2" stroke="#000" stroke-width="0.7" shape-rendering="crispEdges"/>
<line x1="468.6" y1="699.7" x2="534" y2="699.7" stroke="#000" stroke-width="0.7" shape-rendering="crispEdges"/>
<line x1="534" y1="681.2" x2="534" y2="701.7" stroke="#000" stroke-width="1.2" shape-rendering="crispEdges"/>
<rect x="465.1" y="678" width="1.8" height="25.8" fill="#000" shape-rendering="crispEdges"/>
<rect x="467.8" y="678" width="1.8" height="25.8" fill="#000" shape-rendering="crispEdges"/>
<path d="M465.1,681.2 L457,681.2 C454,681.2 453.5,686 455,689 C456.5,692 455,694 454.5,696" stroke="#000" stroke-width="1.1" fill="none"/>
<ellipse cx="456.5" cy="696.5" rx="2.6" ry="4" stroke="#000" stroke-width="1" fill="none"/>
<line x1="456" y1="701.7" x2="465.1" y2="701.7" stroke="#000" stroke-width="1" shape-rendering="crispEdges"/>
<line x1="449.7" y1="691" x2="537.2" y2="691" stroke="#000" stroke-width="0.8" stroke-dasharray="7,2,1,2" shape-rendering="crispEdges"/>
<path d="M534,691 L543.3,694.5 L543.3,726.4 L533,726.4" stroke="#000" stroke-width="0.9" fill="none"/>
<line x1="441.5" y1="679" x2="441.5" y2="704" stroke="#000" stroke-width="1" shape-rendering="crispEdges"/>
<rect x="440" y="680" width="3" height="4" fill="#000" shape-rendering="crispEdges"/>
<rect x="440" y="698" width="3" height="4" fill="#000" shape-rendering="crispEdges"/>
<line x1="440" y1="681.2" x2="465" y2="681.2" stroke="#000" stroke-width="0.8" shape-rendering="crispEdges"/>
<line x1="440" y1="701.7" x2="465" y2="701.7" stroke="#000" stroke-width="0.8" shape-rendering="crispEdges"/>
<text x="439.5" y="688.4" font-size="10.5" font-weight="bold" text-anchor="middle" font-family="Liberation Sans" letter-spacing="0.6" transform="rotate(-90 439.5 688.4)">Φ36<tspan font-weight="normal" font-size="8.5">min</tspan></text>
<rect x="470.3" y="712" width="62.7" height="28.4" stroke="#000" stroke-width="1" fill="none" rx="14.2"/>
<text x="501.6" y="725" font-size="10.5" font-weight="normal" text-anchor="middle" font-family="Liberation Sans">GB145-85</text>
<text x="501.6" y="736" font-size="10.5" font-weight="normal" text-anchor="middle" font-family="Liberation Sans">CM10</text>
<path d="M572.5,681.0 L578.8,681.0 L578.8,685.0 L583.0,684.0 L581.9,688.0 L586.1,688.0 L586.1,694.0 L581.9,694.0 L583.0,698.0 L578.8,697.0 L578.8,701.0 L572.5,701.0 L572.5,697.0 L568.2,698.0 L569.3,694.0 L565.1,694.0 L565.1,688.0 L569.3,688.0 L568.2,684.0 L572.5,685.0 Z" stroke="#000" stroke-width="1" fill="none" stroke-dasharray="2.2,1.6"/>
<line x1="575.6" y1="681" x2="575.6" y2="686" stroke="#000" stroke-width="1.2" shape-rendering="crispEdges"/>
<line x1="575.6" y1="696" x2="575.6" y2="700.5" stroke="#000" stroke-width="1.2" shape-rendering="crispEdges"/>
<line x1="566" y1="691" x2="571" y2="691" stroke="#000" stroke-width="1" shape-rendering="crispEdges"/>
<line x1="580" y1="691" x2="585.5" y2="691" stroke="#000" stroke-width="1" shape-rendering="crispEdges"/>
<rect x="575" y="690.5" width="1.2" height="1.2" fill="#000" shape-rendering="crispEdges"/>
<line x1="574.5" y1="699.5" x2="574.5" y2="725" stroke="#000" stroke-width="1" shape-rendering="crispEdges"/>
<line x1="576.6" y1="699.5" x2="576.6" y2="725" stroke="#000" stroke-width="1" shape-rendering="crispEdges"/>
<line x1="576.7" y1="681.2" x2="634" y2="681.2" stroke="#000" stroke-width="1" shape-rendering="crispEdges"/>
<line x1="576.7" y1="701.2" x2="634" y2="701.2" stroke="#000" stroke-width="1" shape-rendering="crispEdges"/>
<line x1="631.3" y1="595.6" x2="631.3" y2="711.8" stroke="#000" stroke-width="1" shape-rendering="crispEdges"/>
<rect x="630" y="676" width="3" height="4" fill="#000" shape-rendering="crispEdges"/>
<rect x="630" y="698" width="3" height="4" fill="#000" shape-rendering="crispEdges"/>
<text x="629.7" y="631.7" font-size="11" font-weight="bold" text-anchor="middle" font-family="Liberation Sans" letter-spacing="0.6" transform="rotate(-90 629.7 631.7)">Me=Φ28.05<tspan font-size="6" font-weight="normal" dy="-1">-0.03</tspan></text>
<line x1="562.5" y1="725" x2="644.4" y2="725" stroke="#000" stroke-width="1" shape-rendering="crispEdges"/>
<rect x="568" y="723" width="4" height="3" fill="#000" shape-rendering="crispEdges"/>
<rect x="579" y="723" width="4" height="3" fill="#000" shape-rendering="crispEdges"/>
<text x="589.8" y="723.2" font-size="11" font-weight="bold" text-anchor="start" font-family="Liberation Sans" letter-spacing="0.6">D<tspan font-weight="normal">m</tspan>=Φ2.25</text>
</svg></body></html>
